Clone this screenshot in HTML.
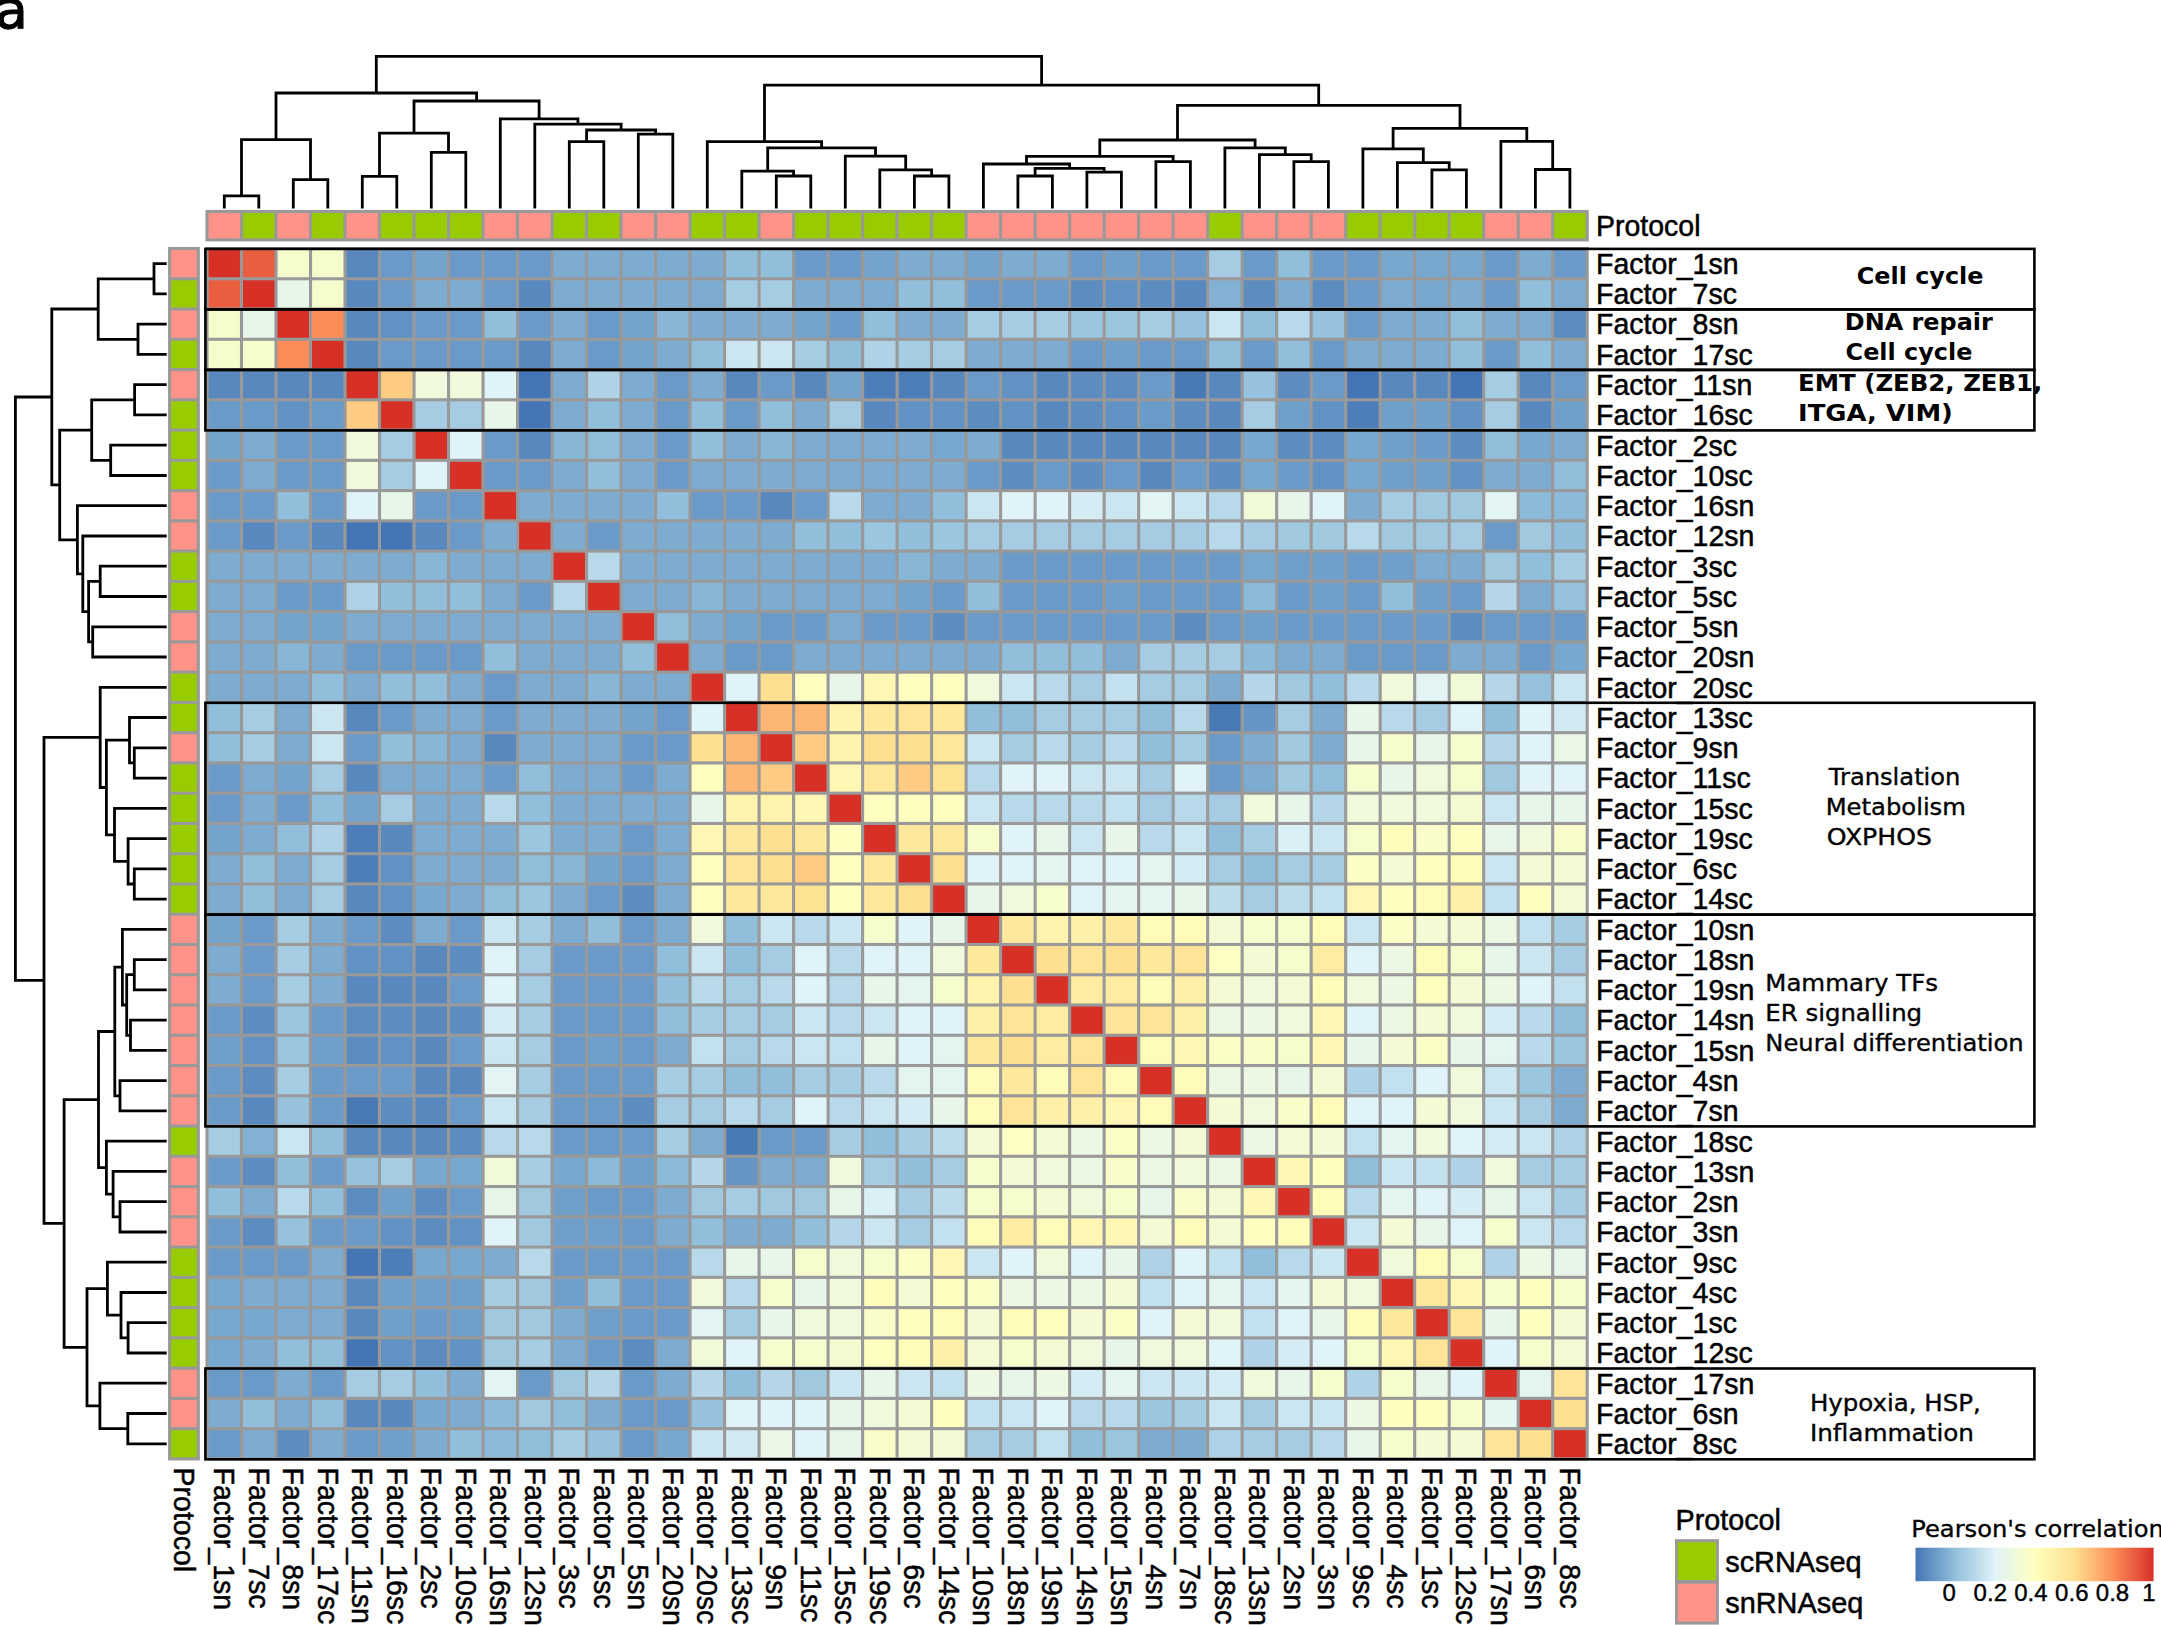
<!DOCTYPE html>
<html><head><meta charset="utf-8"><title>Heatmap</title><style>html,body{margin:0;padding:0;background:#fff}svg{display:block}</style></head><body>
<svg width="2161" height="1625" viewBox="0 0 2161 1625">
<rect width="2161" height="1625" fill="#fff"/>
<text x="-4.8" y="28" font-family="'DejaVu Sans',Verdana,sans-serif" font-size="53" stroke="#000" stroke-width="1.2">a</text>
<rect x="205.45" y="246.95" width="1383.30" height="1213.50" fill="#999999"/>
<g>
<rect x="208.55" y="250.05" width="31.41" height="27.16" fill="#D73027"/>
<rect x="243.06" y="250.05" width="31.41" height="27.16" fill="#EA5E40"/>
<rect x="277.56" y="250.05" width="31.41" height="27.16" fill="#F7FCCD"/>
<rect x="312.06" y="250.05" width="31.41" height="27.16" fill="#F7FCCD"/>
<rect x="346.57" y="250.05" width="31.41" height="27.16" fill="#5888BE"/>
<rect x="381.07" y="250.05" width="31.41" height="27.16" fill="#6B9AC8"/>
<rect x="415.58" y="250.05" width="31.41" height="27.16" fill="#74A3CC"/>
<rect x="450.09" y="250.05" width="31.41" height="27.16" fill="#6B9AC8"/>
<rect x="484.59" y="250.05" width="31.41" height="27.16" fill="#6B9AC8"/>
<rect x="519.10" y="250.05" width="31.41" height="27.16" fill="#6B9AC8"/>
<rect x="553.60" y="250.05" width="31.41" height="27.16" fill="#7EACD1"/>
<rect x="588.11" y="250.05" width="31.41" height="27.16" fill="#7EACD1"/>
<rect x="622.61" y="250.05" width="31.41" height="27.16" fill="#7EACD1"/>
<rect x="657.12" y="250.05" width="31.41" height="27.16" fill="#7EACD1"/>
<rect x="691.62" y="250.05" width="31.41" height="27.16" fill="#7EACD1"/>
<rect x="726.12" y="250.05" width="31.41" height="27.16" fill="#91BFDB"/>
<rect x="760.63" y="250.05" width="31.41" height="27.16" fill="#91BFDB"/>
<rect x="795.13" y="250.05" width="31.41" height="27.16" fill="#6B9AC8"/>
<rect x="829.64" y="250.05" width="31.41" height="27.16" fill="#6B9AC8"/>
<rect x="864.14" y="250.05" width="31.41" height="27.16" fill="#74A3CC"/>
<rect x="898.65" y="250.05" width="31.41" height="27.16" fill="#7EACD1"/>
<rect x="933.15" y="250.05" width="31.41" height="27.16" fill="#7EACD1"/>
<rect x="967.66" y="250.05" width="31.41" height="27.16" fill="#74A3CC"/>
<rect x="1002.16" y="250.05" width="31.41" height="27.16" fill="#7EACD1"/>
<rect x="1036.67" y="250.05" width="31.41" height="27.16" fill="#7EACD1"/>
<rect x="1071.17" y="250.05" width="31.41" height="27.16" fill="#6B9AC8"/>
<rect x="1105.68" y="250.05" width="31.41" height="27.16" fill="#709FCA"/>
<rect x="1140.19" y="250.05" width="31.41" height="27.16" fill="#6B9AC8"/>
<rect x="1174.69" y="250.05" width="31.41" height="27.16" fill="#6B9AC8"/>
<rect x="1209.19" y="250.05" width="31.41" height="27.16" fill="#A5CCE2"/>
<rect x="1243.70" y="250.05" width="31.41" height="27.16" fill="#6B9AC8"/>
<rect x="1278.20" y="250.05" width="31.41" height="27.16" fill="#91BFDB"/>
<rect x="1312.71" y="250.05" width="31.41" height="27.16" fill="#6B9AC8"/>
<rect x="1347.22" y="250.05" width="31.41" height="27.16" fill="#6B9AC8"/>
<rect x="1381.72" y="250.05" width="31.41" height="27.16" fill="#79A8CF"/>
<rect x="1416.23" y="250.05" width="31.41" height="27.16" fill="#79A8CF"/>
<rect x="1450.73" y="250.05" width="31.41" height="27.16" fill="#79A8CF"/>
<rect x="1485.24" y="250.05" width="31.41" height="27.16" fill="#6B9AC8"/>
<rect x="1519.74" y="250.05" width="31.41" height="27.16" fill="#7EACD1"/>
<rect x="1554.25" y="250.05" width="31.41" height="27.16" fill="#6B9AC8"/>
<rect x="208.55" y="280.31" width="31.41" height="27.16" fill="#EA5E40"/>
<rect x="243.06" y="280.31" width="31.41" height="27.16" fill="#D73027"/>
<rect x="277.56" y="280.31" width="31.41" height="27.16" fill="#E8F6EA"/>
<rect x="312.06" y="280.31" width="31.41" height="27.16" fill="#F7FCCD"/>
<rect x="346.57" y="280.31" width="31.41" height="27.16" fill="#5888BE"/>
<rect x="381.07" y="280.31" width="31.41" height="27.16" fill="#6B9AC8"/>
<rect x="415.58" y="280.31" width="31.41" height="27.16" fill="#7EACD1"/>
<rect x="450.09" y="280.31" width="31.41" height="27.16" fill="#7EACD1"/>
<rect x="484.59" y="280.31" width="31.41" height="27.16" fill="#6B9AC8"/>
<rect x="519.10" y="280.31" width="31.41" height="27.16" fill="#5888BE"/>
<rect x="553.60" y="280.31" width="31.41" height="27.16" fill="#7EACD1"/>
<rect x="588.11" y="280.31" width="31.41" height="27.16" fill="#7EACD1"/>
<rect x="622.61" y="280.31" width="31.41" height="27.16" fill="#7EACD1"/>
<rect x="657.12" y="280.31" width="31.41" height="27.16" fill="#7EACD1"/>
<rect x="691.62" y="280.31" width="31.41" height="27.16" fill="#7EACD1"/>
<rect x="726.12" y="280.31" width="31.41" height="27.16" fill="#A5CCE2"/>
<rect x="760.63" y="280.31" width="31.41" height="27.16" fill="#A5CCE2"/>
<rect x="795.13" y="280.31" width="31.41" height="27.16" fill="#7EACD1"/>
<rect x="829.64" y="280.31" width="31.41" height="27.16" fill="#7EACD1"/>
<rect x="864.14" y="280.31" width="31.41" height="27.16" fill="#7EACD1"/>
<rect x="898.65" y="280.31" width="31.41" height="27.16" fill="#91BFDB"/>
<rect x="933.15" y="280.31" width="31.41" height="27.16" fill="#91BFDB"/>
<rect x="967.66" y="280.31" width="31.41" height="27.16" fill="#6B9AC8"/>
<rect x="1002.16" y="280.31" width="31.41" height="27.16" fill="#6B9AC8"/>
<rect x="1036.67" y="280.31" width="31.41" height="27.16" fill="#6B9AC8"/>
<rect x="1071.17" y="280.31" width="31.41" height="27.16" fill="#5D8CC0"/>
<rect x="1105.68" y="280.31" width="31.41" height="27.16" fill="#6291C3"/>
<rect x="1140.19" y="280.31" width="31.41" height="27.16" fill="#5D8CC0"/>
<rect x="1174.69" y="280.31" width="31.41" height="27.16" fill="#5888BE"/>
<rect x="1209.19" y="280.31" width="31.41" height="27.16" fill="#83B1D4"/>
<rect x="1243.70" y="280.31" width="31.41" height="27.16" fill="#5D8CC0"/>
<rect x="1278.20" y="280.31" width="31.41" height="27.16" fill="#7EACD1"/>
<rect x="1312.71" y="280.31" width="31.41" height="27.16" fill="#5D8CC0"/>
<rect x="1347.22" y="280.31" width="31.41" height="27.16" fill="#6B9AC8"/>
<rect x="1381.72" y="280.31" width="31.41" height="27.16" fill="#7EACD1"/>
<rect x="1416.23" y="280.31" width="31.41" height="27.16" fill="#79A8CF"/>
<rect x="1450.73" y="280.31" width="31.41" height="27.16" fill="#7EACD1"/>
<rect x="1485.24" y="280.31" width="31.41" height="27.16" fill="#6B9AC8"/>
<rect x="1519.74" y="280.31" width="31.41" height="27.16" fill="#91BFDB"/>
<rect x="1554.25" y="280.31" width="31.41" height="27.16" fill="#7EACD1"/>
<rect x="208.55" y="310.57" width="31.41" height="27.16" fill="#F7FCCD"/>
<rect x="243.06" y="310.57" width="31.41" height="27.16" fill="#E8F6EA"/>
<rect x="277.56" y="310.57" width="31.41" height="27.16" fill="#D73027"/>
<rect x="312.06" y="310.57" width="31.41" height="27.16" fill="#FC8D59"/>
<rect x="346.57" y="310.57" width="31.41" height="27.16" fill="#5888BE"/>
<rect x="381.07" y="310.57" width="31.41" height="27.16" fill="#6291C3"/>
<rect x="415.58" y="310.57" width="31.41" height="27.16" fill="#6B9AC8"/>
<rect x="450.09" y="310.57" width="31.41" height="27.16" fill="#6B9AC8"/>
<rect x="484.59" y="310.57" width="31.41" height="27.16" fill="#91BFDB"/>
<rect x="519.10" y="310.57" width="31.41" height="27.16" fill="#6B9AC8"/>
<rect x="553.60" y="310.57" width="31.41" height="27.16" fill="#7EACD1"/>
<rect x="588.11" y="310.57" width="31.41" height="27.16" fill="#6B9AC8"/>
<rect x="622.61" y="310.57" width="31.41" height="27.16" fill="#74A3CC"/>
<rect x="657.12" y="310.57" width="31.41" height="27.16" fill="#88B6D6"/>
<rect x="691.62" y="310.57" width="31.41" height="27.16" fill="#7EACD1"/>
<rect x="726.12" y="310.57" width="31.41" height="27.16" fill="#7EACD1"/>
<rect x="760.63" y="310.57" width="31.41" height="27.16" fill="#7EACD1"/>
<rect x="795.13" y="310.57" width="31.41" height="27.16" fill="#74A3CC"/>
<rect x="829.64" y="310.57" width="31.41" height="27.16" fill="#6B9AC8"/>
<rect x="864.14" y="310.57" width="31.41" height="27.16" fill="#91BFDB"/>
<rect x="898.65" y="310.57" width="31.41" height="27.16" fill="#7EACD1"/>
<rect x="933.15" y="310.57" width="31.41" height="27.16" fill="#7EACD1"/>
<rect x="967.66" y="310.57" width="31.41" height="27.16" fill="#A5CCE2"/>
<rect x="1002.16" y="310.57" width="31.41" height="27.16" fill="#A5CCE2"/>
<rect x="1036.67" y="310.57" width="31.41" height="27.16" fill="#A5CCE2"/>
<rect x="1071.17" y="310.57" width="31.41" height="27.16" fill="#9BC6DF"/>
<rect x="1105.68" y="310.57" width="31.41" height="27.16" fill="#9BC6DF"/>
<rect x="1140.19" y="310.57" width="31.41" height="27.16" fill="#A5CCE2"/>
<rect x="1174.69" y="310.57" width="31.41" height="27.16" fill="#96C2DD"/>
<rect x="1209.19" y="310.57" width="31.41" height="27.16" fill="#CCE6F1"/>
<rect x="1243.70" y="310.57" width="31.41" height="27.16" fill="#91BFDB"/>
<rect x="1278.20" y="310.57" width="31.41" height="27.16" fill="#B8D9EA"/>
<rect x="1312.71" y="310.57" width="31.41" height="27.16" fill="#96C2DD"/>
<rect x="1347.22" y="310.57" width="31.41" height="27.16" fill="#6B9AC8"/>
<rect x="1381.72" y="310.57" width="31.41" height="27.16" fill="#7EACD1"/>
<rect x="1416.23" y="310.57" width="31.41" height="27.16" fill="#7EACD1"/>
<rect x="1450.73" y="310.57" width="31.41" height="27.16" fill="#91BFDB"/>
<rect x="1485.24" y="310.57" width="31.41" height="27.16" fill="#7EACD1"/>
<rect x="1519.74" y="310.57" width="31.41" height="27.16" fill="#7EACD1"/>
<rect x="1554.25" y="310.57" width="31.41" height="27.16" fill="#5D8CC0"/>
<rect x="208.55" y="340.83" width="31.41" height="27.16" fill="#F7FCCD"/>
<rect x="243.06" y="340.83" width="31.41" height="27.16" fill="#F7FCCD"/>
<rect x="277.56" y="340.83" width="31.41" height="27.16" fill="#FC8D59"/>
<rect x="312.06" y="340.83" width="31.41" height="27.16" fill="#D73027"/>
<rect x="346.57" y="340.83" width="31.41" height="27.16" fill="#5888BE"/>
<rect x="381.07" y="340.83" width="31.41" height="27.16" fill="#6B9AC8"/>
<rect x="415.58" y="340.83" width="31.41" height="27.16" fill="#6B9AC8"/>
<rect x="450.09" y="340.83" width="31.41" height="27.16" fill="#6B9AC8"/>
<rect x="484.59" y="340.83" width="31.41" height="27.16" fill="#6B9AC8"/>
<rect x="519.10" y="340.83" width="31.41" height="27.16" fill="#5888BE"/>
<rect x="553.60" y="340.83" width="31.41" height="27.16" fill="#7EACD1"/>
<rect x="588.11" y="340.83" width="31.41" height="27.16" fill="#6B9AC8"/>
<rect x="622.61" y="340.83" width="31.41" height="27.16" fill="#74A3CC"/>
<rect x="657.12" y="340.83" width="31.41" height="27.16" fill="#7EACD1"/>
<rect x="691.62" y="340.83" width="31.41" height="27.16" fill="#91BFDB"/>
<rect x="726.12" y="340.83" width="31.41" height="27.16" fill="#CCE6F1"/>
<rect x="760.63" y="340.83" width="31.41" height="27.16" fill="#CCE6F1"/>
<rect x="795.13" y="340.83" width="31.41" height="27.16" fill="#A5CCE2"/>
<rect x="829.64" y="340.83" width="31.41" height="27.16" fill="#91BFDB"/>
<rect x="864.14" y="340.83" width="31.41" height="27.16" fill="#AFD2E6"/>
<rect x="898.65" y="340.83" width="31.41" height="27.16" fill="#A5CCE2"/>
<rect x="933.15" y="340.83" width="31.41" height="27.16" fill="#A5CCE2"/>
<rect x="967.66" y="340.83" width="31.41" height="27.16" fill="#7EACD1"/>
<rect x="1002.16" y="340.83" width="31.41" height="27.16" fill="#7EACD1"/>
<rect x="1036.67" y="340.83" width="31.41" height="27.16" fill="#7EACD1"/>
<rect x="1071.17" y="340.83" width="31.41" height="27.16" fill="#6B9AC8"/>
<rect x="1105.68" y="340.83" width="31.41" height="27.16" fill="#709FCA"/>
<rect x="1140.19" y="340.83" width="31.41" height="27.16" fill="#6B9AC8"/>
<rect x="1174.69" y="340.83" width="31.41" height="27.16" fill="#6B9AC8"/>
<rect x="1209.19" y="340.83" width="31.41" height="27.16" fill="#91BFDB"/>
<rect x="1243.70" y="340.83" width="31.41" height="27.16" fill="#6B9AC8"/>
<rect x="1278.20" y="340.83" width="31.41" height="27.16" fill="#91BFDB"/>
<rect x="1312.71" y="340.83" width="31.41" height="27.16" fill="#6B9AC8"/>
<rect x="1347.22" y="340.83" width="31.41" height="27.16" fill="#7EACD1"/>
<rect x="1381.72" y="340.83" width="31.41" height="27.16" fill="#7EACD1"/>
<rect x="1416.23" y="340.83" width="31.41" height="27.16" fill="#7EACD1"/>
<rect x="1450.73" y="340.83" width="31.41" height="27.16" fill="#91BFDB"/>
<rect x="1485.24" y="340.83" width="31.41" height="27.16" fill="#6B9AC8"/>
<rect x="1519.74" y="340.83" width="31.41" height="27.16" fill="#91BFDB"/>
<rect x="1554.25" y="340.83" width="31.41" height="27.16" fill="#7EACD1"/>
<rect x="208.55" y="371.09" width="31.41" height="27.16" fill="#5888BE"/>
<rect x="243.06" y="371.09" width="31.41" height="27.16" fill="#5888BE"/>
<rect x="277.56" y="371.09" width="31.41" height="27.16" fill="#5888BE"/>
<rect x="312.06" y="371.09" width="31.41" height="27.16" fill="#5888BE"/>
<rect x="346.57" y="371.09" width="31.41" height="27.16" fill="#D73027"/>
<rect x="381.07" y="371.09" width="31.41" height="27.16" fill="#FECB82"/>
<rect x="415.58" y="371.09" width="31.41" height="27.16" fill="#F0F9DC"/>
<rect x="450.09" y="371.09" width="31.41" height="27.16" fill="#F0F9DC"/>
<rect x="484.59" y="371.09" width="31.41" height="27.16" fill="#E0F3F8"/>
<rect x="519.10" y="371.09" width="31.41" height="27.16" fill="#4575B4"/>
<rect x="553.60" y="371.09" width="31.41" height="27.16" fill="#7EACD1"/>
<rect x="588.11" y="371.09" width="31.41" height="27.16" fill="#AFD2E6"/>
<rect x="622.61" y="371.09" width="31.41" height="27.16" fill="#7EACD1"/>
<rect x="657.12" y="371.09" width="31.41" height="27.16" fill="#6B9AC8"/>
<rect x="691.62" y="371.09" width="31.41" height="27.16" fill="#7EACD1"/>
<rect x="726.12" y="371.09" width="31.41" height="27.16" fill="#5888BE"/>
<rect x="760.63" y="371.09" width="31.41" height="27.16" fill="#6B9AC8"/>
<rect x="795.13" y="371.09" width="31.41" height="27.16" fill="#5888BE"/>
<rect x="829.64" y="371.09" width="31.41" height="27.16" fill="#74A3CC"/>
<rect x="864.14" y="371.09" width="31.41" height="27.16" fill="#4E7EB9"/>
<rect x="898.65" y="371.09" width="31.41" height="27.16" fill="#4E7EB9"/>
<rect x="933.15" y="371.09" width="31.41" height="27.16" fill="#5888BE"/>
<rect x="967.66" y="371.09" width="31.41" height="27.16" fill="#6B9AC8"/>
<rect x="1002.16" y="371.09" width="31.41" height="27.16" fill="#6291C3"/>
<rect x="1036.67" y="371.09" width="31.41" height="27.16" fill="#5888BE"/>
<rect x="1071.17" y="371.09" width="31.41" height="27.16" fill="#5D8CC0"/>
<rect x="1105.68" y="371.09" width="31.41" height="27.16" fill="#5D8CC0"/>
<rect x="1140.19" y="371.09" width="31.41" height="27.16" fill="#6B9AC8"/>
<rect x="1174.69" y="371.09" width="31.41" height="27.16" fill="#4A7AB6"/>
<rect x="1209.19" y="371.09" width="31.41" height="27.16" fill="#5888BE"/>
<rect x="1243.70" y="371.09" width="31.41" height="27.16" fill="#96C2DD"/>
<rect x="1278.20" y="371.09" width="31.41" height="27.16" fill="#5D8CC0"/>
<rect x="1312.71" y="371.09" width="31.41" height="27.16" fill="#6B9AC8"/>
<rect x="1347.22" y="371.09" width="31.41" height="27.16" fill="#4575B4"/>
<rect x="1381.72" y="371.09" width="31.41" height="27.16" fill="#5888BE"/>
<rect x="1416.23" y="371.09" width="31.41" height="27.16" fill="#5888BE"/>
<rect x="1450.73" y="371.09" width="31.41" height="27.16" fill="#4575B4"/>
<rect x="1485.24" y="371.09" width="31.41" height="27.16" fill="#A5CCE2"/>
<rect x="1519.74" y="371.09" width="31.41" height="27.16" fill="#5888BE"/>
<rect x="1554.25" y="371.09" width="31.41" height="27.16" fill="#6B9AC8"/>
<rect x="208.55" y="401.35" width="31.41" height="27.16" fill="#6B9AC8"/>
<rect x="243.06" y="401.35" width="31.41" height="27.16" fill="#6B9AC8"/>
<rect x="277.56" y="401.35" width="31.41" height="27.16" fill="#6291C3"/>
<rect x="312.06" y="401.35" width="31.41" height="27.16" fill="#6B9AC8"/>
<rect x="346.57" y="401.35" width="31.41" height="27.16" fill="#FECB82"/>
<rect x="381.07" y="401.35" width="31.41" height="27.16" fill="#D73027"/>
<rect x="415.58" y="401.35" width="31.41" height="27.16" fill="#A5CCE2"/>
<rect x="450.09" y="401.35" width="31.41" height="27.16" fill="#A5CCE2"/>
<rect x="484.59" y="401.35" width="31.41" height="27.16" fill="#E8F6EA"/>
<rect x="519.10" y="401.35" width="31.41" height="27.16" fill="#4575B4"/>
<rect x="553.60" y="401.35" width="31.41" height="27.16" fill="#7EACD1"/>
<rect x="588.11" y="401.35" width="31.41" height="27.16" fill="#91BFDB"/>
<rect x="622.61" y="401.35" width="31.41" height="27.16" fill="#7EACD1"/>
<rect x="657.12" y="401.35" width="31.41" height="27.16" fill="#6B9AC8"/>
<rect x="691.62" y="401.35" width="31.41" height="27.16" fill="#91BFDB"/>
<rect x="726.12" y="401.35" width="31.41" height="27.16" fill="#6B9AC8"/>
<rect x="760.63" y="401.35" width="31.41" height="27.16" fill="#91BFDB"/>
<rect x="795.13" y="401.35" width="31.41" height="27.16" fill="#7EACD1"/>
<rect x="829.64" y="401.35" width="31.41" height="27.16" fill="#A5CCE2"/>
<rect x="864.14" y="401.35" width="31.41" height="27.16" fill="#5888BE"/>
<rect x="898.65" y="401.35" width="31.41" height="27.16" fill="#6291C3"/>
<rect x="933.15" y="401.35" width="31.41" height="27.16" fill="#6291C3"/>
<rect x="967.66" y="401.35" width="31.41" height="27.16" fill="#5D8CC0"/>
<rect x="1002.16" y="401.35" width="31.41" height="27.16" fill="#6291C3"/>
<rect x="1036.67" y="401.35" width="31.41" height="27.16" fill="#5888BE"/>
<rect x="1071.17" y="401.35" width="31.41" height="27.16" fill="#5D8CC0"/>
<rect x="1105.68" y="401.35" width="31.41" height="27.16" fill="#6291C3"/>
<rect x="1140.19" y="401.35" width="31.41" height="27.16" fill="#6B9AC8"/>
<rect x="1174.69" y="401.35" width="31.41" height="27.16" fill="#5D8CC0"/>
<rect x="1209.19" y="401.35" width="31.41" height="27.16" fill="#5888BE"/>
<rect x="1243.70" y="401.35" width="31.41" height="27.16" fill="#A5CCE2"/>
<rect x="1278.20" y="401.35" width="31.41" height="27.16" fill="#709FCA"/>
<rect x="1312.71" y="401.35" width="31.41" height="27.16" fill="#6291C3"/>
<rect x="1347.22" y="401.35" width="31.41" height="27.16" fill="#4E7EB9"/>
<rect x="1381.72" y="401.35" width="31.41" height="27.16" fill="#709FCA"/>
<rect x="1416.23" y="401.35" width="31.41" height="27.16" fill="#709FCA"/>
<rect x="1450.73" y="401.35" width="31.41" height="27.16" fill="#6291C3"/>
<rect x="1485.24" y="401.35" width="31.41" height="27.16" fill="#A5CCE2"/>
<rect x="1519.74" y="401.35" width="31.41" height="27.16" fill="#5888BE"/>
<rect x="1554.25" y="401.35" width="31.41" height="27.16" fill="#709FCA"/>
<rect x="208.55" y="431.61" width="31.41" height="27.16" fill="#74A3CC"/>
<rect x="243.06" y="431.61" width="31.41" height="27.16" fill="#7EACD1"/>
<rect x="277.56" y="431.61" width="31.41" height="27.16" fill="#6B9AC8"/>
<rect x="312.06" y="431.61" width="31.41" height="27.16" fill="#6B9AC8"/>
<rect x="346.57" y="431.61" width="31.41" height="27.16" fill="#F0F9DC"/>
<rect x="381.07" y="431.61" width="31.41" height="27.16" fill="#A5CCE2"/>
<rect x="415.58" y="431.61" width="31.41" height="27.16" fill="#D73027"/>
<rect x="450.09" y="431.61" width="31.41" height="27.16" fill="#E0F3F8"/>
<rect x="484.59" y="431.61" width="31.41" height="27.16" fill="#6B9AC8"/>
<rect x="519.10" y="431.61" width="31.41" height="27.16" fill="#5888BE"/>
<rect x="553.60" y="431.61" width="31.41" height="27.16" fill="#88B6D6"/>
<rect x="588.11" y="431.61" width="31.41" height="27.16" fill="#91BFDB"/>
<rect x="622.61" y="431.61" width="31.41" height="27.16" fill="#7EACD1"/>
<rect x="657.12" y="431.61" width="31.41" height="27.16" fill="#6B9AC8"/>
<rect x="691.62" y="431.61" width="31.41" height="27.16" fill="#91BFDB"/>
<rect x="726.12" y="431.61" width="31.41" height="27.16" fill="#7EACD1"/>
<rect x="760.63" y="431.61" width="31.41" height="27.16" fill="#88B6D6"/>
<rect x="795.13" y="431.61" width="31.41" height="27.16" fill="#7EACD1"/>
<rect x="829.64" y="431.61" width="31.41" height="27.16" fill="#7EACD1"/>
<rect x="864.14" y="431.61" width="31.41" height="27.16" fill="#7EACD1"/>
<rect x="898.65" y="431.61" width="31.41" height="27.16" fill="#7EACD1"/>
<rect x="933.15" y="431.61" width="31.41" height="27.16" fill="#79A8CF"/>
<rect x="967.66" y="431.61" width="31.41" height="27.16" fill="#7EACD1"/>
<rect x="1002.16" y="431.61" width="31.41" height="27.16" fill="#5888BE"/>
<rect x="1036.67" y="431.61" width="31.41" height="27.16" fill="#5888BE"/>
<rect x="1071.17" y="431.61" width="31.41" height="27.16" fill="#5888BE"/>
<rect x="1105.68" y="431.61" width="31.41" height="27.16" fill="#5888BE"/>
<rect x="1140.19" y="431.61" width="31.41" height="27.16" fill="#5888BE"/>
<rect x="1174.69" y="431.61" width="31.41" height="27.16" fill="#5888BE"/>
<rect x="1209.19" y="431.61" width="31.41" height="27.16" fill="#5888BE"/>
<rect x="1243.70" y="431.61" width="31.41" height="27.16" fill="#79A8CF"/>
<rect x="1278.20" y="431.61" width="31.41" height="27.16" fill="#5D8CC0"/>
<rect x="1312.71" y="431.61" width="31.41" height="27.16" fill="#5D8CC0"/>
<rect x="1347.22" y="431.61" width="31.41" height="27.16" fill="#79A8CF"/>
<rect x="1381.72" y="431.61" width="31.41" height="27.16" fill="#709FCA"/>
<rect x="1416.23" y="431.61" width="31.41" height="27.16" fill="#6B9AC8"/>
<rect x="1450.73" y="431.61" width="31.41" height="27.16" fill="#5D8CC0"/>
<rect x="1485.24" y="431.61" width="31.41" height="27.16" fill="#91BFDB"/>
<rect x="1519.74" y="431.61" width="31.41" height="27.16" fill="#79A8CF"/>
<rect x="1554.25" y="431.61" width="31.41" height="27.16" fill="#7EACD1"/>
<rect x="208.55" y="461.87" width="31.41" height="27.16" fill="#6B9AC8"/>
<rect x="243.06" y="461.87" width="31.41" height="27.16" fill="#7EACD1"/>
<rect x="277.56" y="461.87" width="31.41" height="27.16" fill="#6B9AC8"/>
<rect x="312.06" y="461.87" width="31.41" height="27.16" fill="#6B9AC8"/>
<rect x="346.57" y="461.87" width="31.41" height="27.16" fill="#F0F9DC"/>
<rect x="381.07" y="461.87" width="31.41" height="27.16" fill="#A5CCE2"/>
<rect x="415.58" y="461.87" width="31.41" height="27.16" fill="#E0F3F8"/>
<rect x="450.09" y="461.87" width="31.41" height="27.16" fill="#D73027"/>
<rect x="484.59" y="461.87" width="31.41" height="27.16" fill="#6B9AC8"/>
<rect x="519.10" y="461.87" width="31.41" height="27.16" fill="#6B9AC8"/>
<rect x="553.60" y="461.87" width="31.41" height="27.16" fill="#7EACD1"/>
<rect x="588.11" y="461.87" width="31.41" height="27.16" fill="#91BFDB"/>
<rect x="622.61" y="461.87" width="31.41" height="27.16" fill="#7EACD1"/>
<rect x="657.12" y="461.87" width="31.41" height="27.16" fill="#6B9AC8"/>
<rect x="691.62" y="461.87" width="31.41" height="27.16" fill="#7EACD1"/>
<rect x="726.12" y="461.87" width="31.41" height="27.16" fill="#7EACD1"/>
<rect x="760.63" y="461.87" width="31.41" height="27.16" fill="#7EACD1"/>
<rect x="795.13" y="461.87" width="31.41" height="27.16" fill="#7EACD1"/>
<rect x="829.64" y="461.87" width="31.41" height="27.16" fill="#7EACD1"/>
<rect x="864.14" y="461.87" width="31.41" height="27.16" fill="#7EACD1"/>
<rect x="898.65" y="461.87" width="31.41" height="27.16" fill="#7EACD1"/>
<rect x="933.15" y="461.87" width="31.41" height="27.16" fill="#7EACD1"/>
<rect x="967.66" y="461.87" width="31.41" height="27.16" fill="#6B9AC8"/>
<rect x="1002.16" y="461.87" width="31.41" height="27.16" fill="#5D8CC0"/>
<rect x="1036.67" y="461.87" width="31.41" height="27.16" fill="#6B9AC8"/>
<rect x="1071.17" y="461.87" width="31.41" height="27.16" fill="#5D8CC0"/>
<rect x="1105.68" y="461.87" width="31.41" height="27.16" fill="#6B9AC8"/>
<rect x="1140.19" y="461.87" width="31.41" height="27.16" fill="#5888BE"/>
<rect x="1174.69" y="461.87" width="31.41" height="27.16" fill="#6B9AC8"/>
<rect x="1209.19" y="461.87" width="31.41" height="27.16" fill="#5D8CC0"/>
<rect x="1243.70" y="461.87" width="31.41" height="27.16" fill="#79A8CF"/>
<rect x="1278.20" y="461.87" width="31.41" height="27.16" fill="#6B9AC8"/>
<rect x="1312.71" y="461.87" width="31.41" height="27.16" fill="#6291C3"/>
<rect x="1347.22" y="461.87" width="31.41" height="27.16" fill="#79A8CF"/>
<rect x="1381.72" y="461.87" width="31.41" height="27.16" fill="#709FCA"/>
<rect x="1416.23" y="461.87" width="31.41" height="27.16" fill="#709FCA"/>
<rect x="1450.73" y="461.87" width="31.41" height="27.16" fill="#6291C3"/>
<rect x="1485.24" y="461.87" width="31.41" height="27.16" fill="#7EACD1"/>
<rect x="1519.74" y="461.87" width="31.41" height="27.16" fill="#7EACD1"/>
<rect x="1554.25" y="461.87" width="31.41" height="27.16" fill="#91BFDB"/>
<rect x="208.55" y="492.13" width="31.41" height="27.16" fill="#6B9AC8"/>
<rect x="243.06" y="492.13" width="31.41" height="27.16" fill="#6B9AC8"/>
<rect x="277.56" y="492.13" width="31.41" height="27.16" fill="#91BFDB"/>
<rect x="312.06" y="492.13" width="31.41" height="27.16" fill="#6B9AC8"/>
<rect x="346.57" y="492.13" width="31.41" height="27.16" fill="#E0F3F8"/>
<rect x="381.07" y="492.13" width="31.41" height="27.16" fill="#E8F6EA"/>
<rect x="415.58" y="492.13" width="31.41" height="27.16" fill="#6B9AC8"/>
<rect x="450.09" y="492.13" width="31.41" height="27.16" fill="#6B9AC8"/>
<rect x="484.59" y="492.13" width="31.41" height="27.16" fill="#D73027"/>
<rect x="519.10" y="492.13" width="31.41" height="27.16" fill="#7EACD1"/>
<rect x="553.60" y="492.13" width="31.41" height="27.16" fill="#7EACD1"/>
<rect x="588.11" y="492.13" width="31.41" height="27.16" fill="#7EACD1"/>
<rect x="622.61" y="492.13" width="31.41" height="27.16" fill="#7EACD1"/>
<rect x="657.12" y="492.13" width="31.41" height="27.16" fill="#91BFDB"/>
<rect x="691.62" y="492.13" width="31.41" height="27.16" fill="#6B9AC8"/>
<rect x="726.12" y="492.13" width="31.41" height="27.16" fill="#6B9AC8"/>
<rect x="760.63" y="492.13" width="31.41" height="27.16" fill="#5888BE"/>
<rect x="795.13" y="492.13" width="31.41" height="27.16" fill="#6B9AC8"/>
<rect x="829.64" y="492.13" width="31.41" height="27.16" fill="#B8D9EA"/>
<rect x="864.14" y="492.13" width="31.41" height="27.16" fill="#7EACD1"/>
<rect x="898.65" y="492.13" width="31.41" height="27.16" fill="#7EACD1"/>
<rect x="933.15" y="492.13" width="31.41" height="27.16" fill="#91BFDB"/>
<rect x="967.66" y="492.13" width="31.41" height="27.16" fill="#CCE6F1"/>
<rect x="1002.16" y="492.13" width="31.41" height="27.16" fill="#E0F3F8"/>
<rect x="1036.67" y="492.13" width="31.41" height="27.16" fill="#E0F3F8"/>
<rect x="1071.17" y="492.13" width="31.41" height="27.16" fill="#D6ECF4"/>
<rect x="1105.68" y="492.13" width="31.41" height="27.16" fill="#CCE6F1"/>
<rect x="1140.19" y="492.13" width="31.41" height="27.16" fill="#E2F4F4"/>
<rect x="1174.69" y="492.13" width="31.41" height="27.16" fill="#CCE6F1"/>
<rect x="1209.19" y="492.13" width="31.41" height="27.16" fill="#B8D9EA"/>
<rect x="1243.70" y="492.13" width="31.41" height="27.16" fill="#F1FAD8"/>
<rect x="1278.20" y="492.13" width="31.41" height="27.16" fill="#E8F6EA"/>
<rect x="1312.71" y="492.13" width="31.41" height="27.16" fill="#E0F3F8"/>
<rect x="1347.22" y="492.13" width="31.41" height="27.16" fill="#7EACD1"/>
<rect x="1381.72" y="492.13" width="31.41" height="27.16" fill="#A5CCE2"/>
<rect x="1416.23" y="492.13" width="31.41" height="27.16" fill="#A0C9E0"/>
<rect x="1450.73" y="492.13" width="31.41" height="27.16" fill="#A0C9E0"/>
<rect x="1485.24" y="492.13" width="31.41" height="27.16" fill="#E2F4F4"/>
<rect x="1519.74" y="492.13" width="31.41" height="27.16" fill="#8CBAD9"/>
<rect x="1554.25" y="492.13" width="31.41" height="27.16" fill="#8CBAD9"/>
<rect x="208.55" y="522.39" width="31.41" height="27.16" fill="#6B9AC8"/>
<rect x="243.06" y="522.39" width="31.41" height="27.16" fill="#5888BE"/>
<rect x="277.56" y="522.39" width="31.41" height="27.16" fill="#6B9AC8"/>
<rect x="312.06" y="522.39" width="31.41" height="27.16" fill="#5888BE"/>
<rect x="346.57" y="522.39" width="31.41" height="27.16" fill="#4575B4"/>
<rect x="381.07" y="522.39" width="31.41" height="27.16" fill="#4575B4"/>
<rect x="415.58" y="522.39" width="31.41" height="27.16" fill="#5888BE"/>
<rect x="450.09" y="522.39" width="31.41" height="27.16" fill="#6B9AC8"/>
<rect x="484.59" y="522.39" width="31.41" height="27.16" fill="#7EACD1"/>
<rect x="519.10" y="522.39" width="31.41" height="27.16" fill="#D73027"/>
<rect x="553.60" y="522.39" width="31.41" height="27.16" fill="#7EACD1"/>
<rect x="588.11" y="522.39" width="31.41" height="27.16" fill="#6B9AC8"/>
<rect x="622.61" y="522.39" width="31.41" height="27.16" fill="#7EACD1"/>
<rect x="657.12" y="522.39" width="31.41" height="27.16" fill="#7EACD1"/>
<rect x="691.62" y="522.39" width="31.41" height="27.16" fill="#7EACD1"/>
<rect x="726.12" y="522.39" width="31.41" height="27.16" fill="#7EACD1"/>
<rect x="760.63" y="522.39" width="31.41" height="27.16" fill="#7EACD1"/>
<rect x="795.13" y="522.39" width="31.41" height="27.16" fill="#91BFDB"/>
<rect x="829.64" y="522.39" width="31.41" height="27.16" fill="#91BFDB"/>
<rect x="864.14" y="522.39" width="31.41" height="27.16" fill="#9BC6DF"/>
<rect x="898.65" y="522.39" width="31.41" height="27.16" fill="#91BFDB"/>
<rect x="933.15" y="522.39" width="31.41" height="27.16" fill="#9BC6DF"/>
<rect x="967.66" y="522.39" width="31.41" height="27.16" fill="#A5CCE2"/>
<rect x="1002.16" y="522.39" width="31.41" height="27.16" fill="#A5CCE2"/>
<rect x="1036.67" y="522.39" width="31.41" height="27.16" fill="#A5CCE2"/>
<rect x="1071.17" y="522.39" width="31.41" height="27.16" fill="#A5CCE2"/>
<rect x="1105.68" y="522.39" width="31.41" height="27.16" fill="#A5CCE2"/>
<rect x="1140.19" y="522.39" width="31.41" height="27.16" fill="#A5CCE2"/>
<rect x="1174.69" y="522.39" width="31.41" height="27.16" fill="#A5CCE2"/>
<rect x="1209.19" y="522.39" width="31.41" height="27.16" fill="#B8D9EA"/>
<rect x="1243.70" y="522.39" width="31.41" height="27.16" fill="#A5CCE2"/>
<rect x="1278.20" y="522.39" width="31.41" height="27.16" fill="#A0C9E0"/>
<rect x="1312.71" y="522.39" width="31.41" height="27.16" fill="#A0C9E0"/>
<rect x="1347.22" y="522.39" width="31.41" height="27.16" fill="#B8D9EA"/>
<rect x="1381.72" y="522.39" width="31.41" height="27.16" fill="#A0C9E0"/>
<rect x="1416.23" y="522.39" width="31.41" height="27.16" fill="#A0C9E0"/>
<rect x="1450.73" y="522.39" width="31.41" height="27.16" fill="#A5CCE2"/>
<rect x="1485.24" y="522.39" width="31.41" height="27.16" fill="#6B9AC8"/>
<rect x="1519.74" y="522.39" width="31.41" height="27.16" fill="#A0C9E0"/>
<rect x="1554.25" y="522.39" width="31.41" height="27.16" fill="#91BFDB"/>
<rect x="208.55" y="552.65" width="31.41" height="27.16" fill="#7EACD1"/>
<rect x="243.06" y="552.65" width="31.41" height="27.16" fill="#7EACD1"/>
<rect x="277.56" y="552.65" width="31.41" height="27.16" fill="#7EACD1"/>
<rect x="312.06" y="552.65" width="31.41" height="27.16" fill="#7EACD1"/>
<rect x="346.57" y="552.65" width="31.41" height="27.16" fill="#7EACD1"/>
<rect x="381.07" y="552.65" width="31.41" height="27.16" fill="#7EACD1"/>
<rect x="415.58" y="552.65" width="31.41" height="27.16" fill="#88B6D6"/>
<rect x="450.09" y="552.65" width="31.41" height="27.16" fill="#7EACD1"/>
<rect x="484.59" y="552.65" width="31.41" height="27.16" fill="#7EACD1"/>
<rect x="519.10" y="552.65" width="31.41" height="27.16" fill="#7EACD1"/>
<rect x="553.60" y="552.65" width="31.41" height="27.16" fill="#D73027"/>
<rect x="588.11" y="552.65" width="31.41" height="27.16" fill="#B8D9EA"/>
<rect x="622.61" y="552.65" width="31.41" height="27.16" fill="#7EACD1"/>
<rect x="657.12" y="552.65" width="31.41" height="27.16" fill="#7EACD1"/>
<rect x="691.62" y="552.65" width="31.41" height="27.16" fill="#7EACD1"/>
<rect x="726.12" y="552.65" width="31.41" height="27.16" fill="#7EACD1"/>
<rect x="760.63" y="552.65" width="31.41" height="27.16" fill="#7EACD1"/>
<rect x="795.13" y="552.65" width="31.41" height="27.16" fill="#7EACD1"/>
<rect x="829.64" y="552.65" width="31.41" height="27.16" fill="#7EACD1"/>
<rect x="864.14" y="552.65" width="31.41" height="27.16" fill="#7EACD1"/>
<rect x="898.65" y="552.65" width="31.41" height="27.16" fill="#88B6D6"/>
<rect x="933.15" y="552.65" width="31.41" height="27.16" fill="#7EACD1"/>
<rect x="967.66" y="552.65" width="31.41" height="27.16" fill="#7EACD1"/>
<rect x="1002.16" y="552.65" width="31.41" height="27.16" fill="#6B9AC8"/>
<rect x="1036.67" y="552.65" width="31.41" height="27.16" fill="#6B9AC8"/>
<rect x="1071.17" y="552.65" width="31.41" height="27.16" fill="#6B9AC8"/>
<rect x="1105.68" y="552.65" width="31.41" height="27.16" fill="#6B9AC8"/>
<rect x="1140.19" y="552.65" width="31.41" height="27.16" fill="#6B9AC8"/>
<rect x="1174.69" y="552.65" width="31.41" height="27.16" fill="#6B9AC8"/>
<rect x="1209.19" y="552.65" width="31.41" height="27.16" fill="#6B9AC8"/>
<rect x="1243.70" y="552.65" width="31.41" height="27.16" fill="#79A8CF"/>
<rect x="1278.20" y="552.65" width="31.41" height="27.16" fill="#709FCA"/>
<rect x="1312.71" y="552.65" width="31.41" height="27.16" fill="#709FCA"/>
<rect x="1347.22" y="552.65" width="31.41" height="27.16" fill="#6B9AC8"/>
<rect x="1381.72" y="552.65" width="31.41" height="27.16" fill="#709FCA"/>
<rect x="1416.23" y="552.65" width="31.41" height="27.16" fill="#7EACD1"/>
<rect x="1450.73" y="552.65" width="31.41" height="27.16" fill="#7EACD1"/>
<rect x="1485.24" y="552.65" width="31.41" height="27.16" fill="#A0C9E0"/>
<rect x="1519.74" y="552.65" width="31.41" height="27.16" fill="#91BFDB"/>
<rect x="1554.25" y="552.65" width="31.41" height="27.16" fill="#A5CCE2"/>
<rect x="208.55" y="582.91" width="31.41" height="27.16" fill="#7EACD1"/>
<rect x="243.06" y="582.91" width="31.41" height="27.16" fill="#7EACD1"/>
<rect x="277.56" y="582.91" width="31.41" height="27.16" fill="#6B9AC8"/>
<rect x="312.06" y="582.91" width="31.41" height="27.16" fill="#6B9AC8"/>
<rect x="346.57" y="582.91" width="31.41" height="27.16" fill="#AFD2E6"/>
<rect x="381.07" y="582.91" width="31.41" height="27.16" fill="#91BFDB"/>
<rect x="415.58" y="582.91" width="31.41" height="27.16" fill="#91BFDB"/>
<rect x="450.09" y="582.91" width="31.41" height="27.16" fill="#91BFDB"/>
<rect x="484.59" y="582.91" width="31.41" height="27.16" fill="#7EACD1"/>
<rect x="519.10" y="582.91" width="31.41" height="27.16" fill="#6B9AC8"/>
<rect x="553.60" y="582.91" width="31.41" height="27.16" fill="#B8D9EA"/>
<rect x="588.11" y="582.91" width="31.41" height="27.16" fill="#D73027"/>
<rect x="622.61" y="582.91" width="31.41" height="27.16" fill="#7EACD1"/>
<rect x="657.12" y="582.91" width="31.41" height="27.16" fill="#7EACD1"/>
<rect x="691.62" y="582.91" width="31.41" height="27.16" fill="#88B6D6"/>
<rect x="726.12" y="582.91" width="31.41" height="27.16" fill="#7EACD1"/>
<rect x="760.63" y="582.91" width="31.41" height="27.16" fill="#7EACD1"/>
<rect x="795.13" y="582.91" width="31.41" height="27.16" fill="#7EACD1"/>
<rect x="829.64" y="582.91" width="31.41" height="27.16" fill="#7EACD1"/>
<rect x="864.14" y="582.91" width="31.41" height="27.16" fill="#7EACD1"/>
<rect x="898.65" y="582.91" width="31.41" height="27.16" fill="#74A3CC"/>
<rect x="933.15" y="582.91" width="31.41" height="27.16" fill="#6B9AC8"/>
<rect x="967.66" y="582.91" width="31.41" height="27.16" fill="#91BFDB"/>
<rect x="1002.16" y="582.91" width="31.41" height="27.16" fill="#6B9AC8"/>
<rect x="1036.67" y="582.91" width="31.41" height="27.16" fill="#6B9AC8"/>
<rect x="1071.17" y="582.91" width="31.41" height="27.16" fill="#6B9AC8"/>
<rect x="1105.68" y="582.91" width="31.41" height="27.16" fill="#709FCA"/>
<rect x="1140.19" y="582.91" width="31.41" height="27.16" fill="#6B9AC8"/>
<rect x="1174.69" y="582.91" width="31.41" height="27.16" fill="#6B9AC8"/>
<rect x="1209.19" y="582.91" width="31.41" height="27.16" fill="#6B9AC8"/>
<rect x="1243.70" y="582.91" width="31.41" height="27.16" fill="#8CBAD9"/>
<rect x="1278.20" y="582.91" width="31.41" height="27.16" fill="#6B9AC8"/>
<rect x="1312.71" y="582.91" width="31.41" height="27.16" fill="#709FCA"/>
<rect x="1347.22" y="582.91" width="31.41" height="27.16" fill="#6B9AC8"/>
<rect x="1381.72" y="582.91" width="31.41" height="27.16" fill="#91BFDB"/>
<rect x="1416.23" y="582.91" width="31.41" height="27.16" fill="#709FCA"/>
<rect x="1450.73" y="582.91" width="31.41" height="27.16" fill="#6B9AC8"/>
<rect x="1485.24" y="582.91" width="31.41" height="27.16" fill="#B4D6E8"/>
<rect x="1519.74" y="582.91" width="31.41" height="27.16" fill="#7EACD1"/>
<rect x="1554.25" y="582.91" width="31.41" height="27.16" fill="#96C2DD"/>
<rect x="208.55" y="613.17" width="31.41" height="27.16" fill="#7EACD1"/>
<rect x="243.06" y="613.17" width="31.41" height="27.16" fill="#7EACD1"/>
<rect x="277.56" y="613.17" width="31.41" height="27.16" fill="#74A3CC"/>
<rect x="312.06" y="613.17" width="31.41" height="27.16" fill="#74A3CC"/>
<rect x="346.57" y="613.17" width="31.41" height="27.16" fill="#7EACD1"/>
<rect x="381.07" y="613.17" width="31.41" height="27.16" fill="#7EACD1"/>
<rect x="415.58" y="613.17" width="31.41" height="27.16" fill="#7EACD1"/>
<rect x="450.09" y="613.17" width="31.41" height="27.16" fill="#7EACD1"/>
<rect x="484.59" y="613.17" width="31.41" height="27.16" fill="#7EACD1"/>
<rect x="519.10" y="613.17" width="31.41" height="27.16" fill="#7EACD1"/>
<rect x="553.60" y="613.17" width="31.41" height="27.16" fill="#7EACD1"/>
<rect x="588.11" y="613.17" width="31.41" height="27.16" fill="#7EACD1"/>
<rect x="622.61" y="613.17" width="31.41" height="27.16" fill="#D73027"/>
<rect x="657.12" y="613.17" width="31.41" height="27.16" fill="#91BFDB"/>
<rect x="691.62" y="613.17" width="31.41" height="27.16" fill="#7EACD1"/>
<rect x="726.12" y="613.17" width="31.41" height="27.16" fill="#74A3CC"/>
<rect x="760.63" y="613.17" width="31.41" height="27.16" fill="#6B9AC8"/>
<rect x="795.13" y="613.17" width="31.41" height="27.16" fill="#6B9AC8"/>
<rect x="829.64" y="613.17" width="31.41" height="27.16" fill="#7EACD1"/>
<rect x="864.14" y="613.17" width="31.41" height="27.16" fill="#6B9AC8"/>
<rect x="898.65" y="613.17" width="31.41" height="27.16" fill="#6B9AC8"/>
<rect x="933.15" y="613.17" width="31.41" height="27.16" fill="#5D8CC0"/>
<rect x="967.66" y="613.17" width="31.41" height="27.16" fill="#6B9AC8"/>
<rect x="1002.16" y="613.17" width="31.41" height="27.16" fill="#6B9AC8"/>
<rect x="1036.67" y="613.17" width="31.41" height="27.16" fill="#6B9AC8"/>
<rect x="1071.17" y="613.17" width="31.41" height="27.16" fill="#6B9AC8"/>
<rect x="1105.68" y="613.17" width="31.41" height="27.16" fill="#6B9AC8"/>
<rect x="1140.19" y="613.17" width="31.41" height="27.16" fill="#6B9AC8"/>
<rect x="1174.69" y="613.17" width="31.41" height="27.16" fill="#5D8CC0"/>
<rect x="1209.19" y="613.17" width="31.41" height="27.16" fill="#6B9AC8"/>
<rect x="1243.70" y="613.17" width="31.41" height="27.16" fill="#709FCA"/>
<rect x="1278.20" y="613.17" width="31.41" height="27.16" fill="#6B9AC8"/>
<rect x="1312.71" y="613.17" width="31.41" height="27.16" fill="#6B9AC8"/>
<rect x="1347.22" y="613.17" width="31.41" height="27.16" fill="#6B9AC8"/>
<rect x="1381.72" y="613.17" width="31.41" height="27.16" fill="#6B9AC8"/>
<rect x="1416.23" y="613.17" width="31.41" height="27.16" fill="#6B9AC8"/>
<rect x="1450.73" y="613.17" width="31.41" height="27.16" fill="#5D8CC0"/>
<rect x="1485.24" y="613.17" width="31.41" height="27.16" fill="#6B9AC8"/>
<rect x="1519.74" y="613.17" width="31.41" height="27.16" fill="#6B9AC8"/>
<rect x="1554.25" y="613.17" width="31.41" height="27.16" fill="#6B9AC8"/>
<rect x="208.55" y="643.43" width="31.41" height="27.16" fill="#7EACD1"/>
<rect x="243.06" y="643.43" width="31.41" height="27.16" fill="#7EACD1"/>
<rect x="277.56" y="643.43" width="31.41" height="27.16" fill="#88B6D6"/>
<rect x="312.06" y="643.43" width="31.41" height="27.16" fill="#7EACD1"/>
<rect x="346.57" y="643.43" width="31.41" height="27.16" fill="#6B9AC8"/>
<rect x="381.07" y="643.43" width="31.41" height="27.16" fill="#6B9AC8"/>
<rect x="415.58" y="643.43" width="31.41" height="27.16" fill="#6B9AC8"/>
<rect x="450.09" y="643.43" width="31.41" height="27.16" fill="#6B9AC8"/>
<rect x="484.59" y="643.43" width="31.41" height="27.16" fill="#91BFDB"/>
<rect x="519.10" y="643.43" width="31.41" height="27.16" fill="#7EACD1"/>
<rect x="553.60" y="643.43" width="31.41" height="27.16" fill="#7EACD1"/>
<rect x="588.11" y="643.43" width="31.41" height="27.16" fill="#7EACD1"/>
<rect x="622.61" y="643.43" width="31.41" height="27.16" fill="#91BFDB"/>
<rect x="657.12" y="643.43" width="31.41" height="27.16" fill="#D73027"/>
<rect x="691.62" y="643.43" width="31.41" height="27.16" fill="#7EACD1"/>
<rect x="726.12" y="643.43" width="31.41" height="27.16" fill="#6B9AC8"/>
<rect x="760.63" y="643.43" width="31.41" height="27.16" fill="#6B9AC8"/>
<rect x="795.13" y="643.43" width="31.41" height="27.16" fill="#7EACD1"/>
<rect x="829.64" y="643.43" width="31.41" height="27.16" fill="#7EACD1"/>
<rect x="864.14" y="643.43" width="31.41" height="27.16" fill="#7EACD1"/>
<rect x="898.65" y="643.43" width="31.41" height="27.16" fill="#7EACD1"/>
<rect x="933.15" y="643.43" width="31.41" height="27.16" fill="#7EACD1"/>
<rect x="967.66" y="643.43" width="31.41" height="27.16" fill="#7EACD1"/>
<rect x="1002.16" y="643.43" width="31.41" height="27.16" fill="#91BFDB"/>
<rect x="1036.67" y="643.43" width="31.41" height="27.16" fill="#91BFDB"/>
<rect x="1071.17" y="643.43" width="31.41" height="27.16" fill="#91BFDB"/>
<rect x="1105.68" y="643.43" width="31.41" height="27.16" fill="#7EACD1"/>
<rect x="1140.19" y="643.43" width="31.41" height="27.16" fill="#A5CCE2"/>
<rect x="1174.69" y="643.43" width="31.41" height="27.16" fill="#A5CCE2"/>
<rect x="1209.19" y="643.43" width="31.41" height="27.16" fill="#A5CCE2"/>
<rect x="1243.70" y="643.43" width="31.41" height="27.16" fill="#8CBAD9"/>
<rect x="1278.20" y="643.43" width="31.41" height="27.16" fill="#7EACD1"/>
<rect x="1312.71" y="643.43" width="31.41" height="27.16" fill="#7EACD1"/>
<rect x="1347.22" y="643.43" width="31.41" height="27.16" fill="#6B9AC8"/>
<rect x="1381.72" y="643.43" width="31.41" height="27.16" fill="#6B9AC8"/>
<rect x="1416.23" y="643.43" width="31.41" height="27.16" fill="#6B9AC8"/>
<rect x="1450.73" y="643.43" width="31.41" height="27.16" fill="#7EACD1"/>
<rect x="1485.24" y="643.43" width="31.41" height="27.16" fill="#7EACD1"/>
<rect x="1519.74" y="643.43" width="31.41" height="27.16" fill="#6B9AC8"/>
<rect x="1554.25" y="643.43" width="31.41" height="27.16" fill="#79A8CF"/>
<rect x="208.55" y="673.69" width="31.41" height="27.16" fill="#7EACD1"/>
<rect x="243.06" y="673.69" width="31.41" height="27.16" fill="#7EACD1"/>
<rect x="277.56" y="673.69" width="31.41" height="27.16" fill="#7EACD1"/>
<rect x="312.06" y="673.69" width="31.41" height="27.16" fill="#91BFDB"/>
<rect x="346.57" y="673.69" width="31.41" height="27.16" fill="#7EACD1"/>
<rect x="381.07" y="673.69" width="31.41" height="27.16" fill="#91BFDB"/>
<rect x="415.58" y="673.69" width="31.41" height="27.16" fill="#91BFDB"/>
<rect x="450.09" y="673.69" width="31.41" height="27.16" fill="#7EACD1"/>
<rect x="484.59" y="673.69" width="31.41" height="27.16" fill="#6B9AC8"/>
<rect x="519.10" y="673.69" width="31.41" height="27.16" fill="#7EACD1"/>
<rect x="553.60" y="673.69" width="31.41" height="27.16" fill="#7EACD1"/>
<rect x="588.11" y="673.69" width="31.41" height="27.16" fill="#88B6D6"/>
<rect x="622.61" y="673.69" width="31.41" height="27.16" fill="#7EACD1"/>
<rect x="657.12" y="673.69" width="31.41" height="27.16" fill="#7EACD1"/>
<rect x="691.62" y="673.69" width="31.41" height="27.16" fill="#D73027"/>
<rect x="726.12" y="673.69" width="31.41" height="27.16" fill="#E0F3F8"/>
<rect x="760.63" y="673.69" width="31.41" height="27.16" fill="#FEE090"/>
<rect x="795.13" y="673.69" width="31.41" height="27.16" fill="#FFFFBF"/>
<rect x="829.64" y="673.69" width="31.41" height="27.16" fill="#E8F6EA"/>
<rect x="864.14" y="673.69" width="31.41" height="27.16" fill="#FFF7B3"/>
<rect x="898.65" y="673.69" width="31.41" height="27.16" fill="#FFFFBF"/>
<rect x="933.15" y="673.69" width="31.41" height="27.16" fill="#FFFFBF"/>
<rect x="967.66" y="673.69" width="31.41" height="27.16" fill="#F0F9DC"/>
<rect x="1002.16" y="673.69" width="31.41" height="27.16" fill="#CCE6F1"/>
<rect x="1036.67" y="673.69" width="31.41" height="27.16" fill="#B8D9EA"/>
<rect x="1071.17" y="673.69" width="31.41" height="27.16" fill="#A5CCE2"/>
<rect x="1105.68" y="673.69" width="31.41" height="27.16" fill="#C2E0ED"/>
<rect x="1140.19" y="673.69" width="31.41" height="27.16" fill="#A5CCE2"/>
<rect x="1174.69" y="673.69" width="31.41" height="27.16" fill="#A5CCE2"/>
<rect x="1209.19" y="673.69" width="31.41" height="27.16" fill="#7EACD1"/>
<rect x="1243.70" y="673.69" width="31.41" height="27.16" fill="#B4D6E8"/>
<rect x="1278.20" y="673.69" width="31.41" height="27.16" fill="#A0C9E0"/>
<rect x="1312.71" y="673.69" width="31.41" height="27.16" fill="#91BFDB"/>
<rect x="1347.22" y="673.69" width="31.41" height="27.16" fill="#B8D9EA"/>
<rect x="1381.72" y="673.69" width="31.41" height="27.16" fill="#F0F9DC"/>
<rect x="1416.23" y="673.69" width="31.41" height="27.16" fill="#E2F4F4"/>
<rect x="1450.73" y="673.69" width="31.41" height="27.16" fill="#F1FAD8"/>
<rect x="1485.24" y="673.69" width="31.41" height="27.16" fill="#B4D6E8"/>
<rect x="1519.74" y="673.69" width="31.41" height="27.16" fill="#96C2DD"/>
<rect x="1554.25" y="673.69" width="31.41" height="27.16" fill="#CCE6F1"/>
<rect x="208.55" y="703.95" width="31.41" height="27.16" fill="#91BFDB"/>
<rect x="243.06" y="703.95" width="31.41" height="27.16" fill="#A5CCE2"/>
<rect x="277.56" y="703.95" width="31.41" height="27.16" fill="#7EACD1"/>
<rect x="312.06" y="703.95" width="31.41" height="27.16" fill="#CCE6F1"/>
<rect x="346.57" y="703.95" width="31.41" height="27.16" fill="#5888BE"/>
<rect x="381.07" y="703.95" width="31.41" height="27.16" fill="#6B9AC8"/>
<rect x="415.58" y="703.95" width="31.41" height="27.16" fill="#7EACD1"/>
<rect x="450.09" y="703.95" width="31.41" height="27.16" fill="#7EACD1"/>
<rect x="484.59" y="703.95" width="31.41" height="27.16" fill="#6B9AC8"/>
<rect x="519.10" y="703.95" width="31.41" height="27.16" fill="#7EACD1"/>
<rect x="553.60" y="703.95" width="31.41" height="27.16" fill="#7EACD1"/>
<rect x="588.11" y="703.95" width="31.41" height="27.16" fill="#7EACD1"/>
<rect x="622.61" y="703.95" width="31.41" height="27.16" fill="#74A3CC"/>
<rect x="657.12" y="703.95" width="31.41" height="27.16" fill="#6B9AC8"/>
<rect x="691.62" y="703.95" width="31.41" height="27.16" fill="#E0F3F8"/>
<rect x="726.12" y="703.95" width="31.41" height="27.16" fill="#D73027"/>
<rect x="760.63" y="703.95" width="31.41" height="27.16" fill="#FDB674"/>
<rect x="795.13" y="703.95" width="31.41" height="27.16" fill="#FDB674"/>
<rect x="829.64" y="703.95" width="31.41" height="27.16" fill="#FFF3AD"/>
<rect x="864.14" y="703.95" width="31.41" height="27.16" fill="#FEE89C"/>
<rect x="898.65" y="703.95" width="31.41" height="27.16" fill="#FEE496"/>
<rect x="933.15" y="703.95" width="31.41" height="27.16" fill="#FEE89C"/>
<rect x="967.66" y="703.95" width="31.41" height="27.16" fill="#91BFDB"/>
<rect x="1002.16" y="703.95" width="31.41" height="27.16" fill="#91BFDB"/>
<rect x="1036.67" y="703.95" width="31.41" height="27.16" fill="#A5CCE2"/>
<rect x="1071.17" y="703.95" width="31.41" height="27.16" fill="#A5CCE2"/>
<rect x="1105.68" y="703.95" width="31.41" height="27.16" fill="#A5CCE2"/>
<rect x="1140.19" y="703.95" width="31.41" height="27.16" fill="#91BFDB"/>
<rect x="1174.69" y="703.95" width="31.41" height="27.16" fill="#B8D9EA"/>
<rect x="1209.19" y="703.95" width="31.41" height="27.16" fill="#4A7AB6"/>
<rect x="1243.70" y="703.95" width="31.41" height="27.16" fill="#6695C5"/>
<rect x="1278.20" y="703.95" width="31.41" height="27.16" fill="#A5CCE2"/>
<rect x="1312.71" y="703.95" width="31.41" height="27.16" fill="#7EACD1"/>
<rect x="1347.22" y="703.95" width="31.41" height="27.16" fill="#E8F6EA"/>
<rect x="1381.72" y="703.95" width="31.41" height="27.16" fill="#B8D9EA"/>
<rect x="1416.23" y="703.95" width="31.41" height="27.16" fill="#A5CCE2"/>
<rect x="1450.73" y="703.95" width="31.41" height="27.16" fill="#E0F3F8"/>
<rect x="1485.24" y="703.95" width="31.41" height="27.16" fill="#91BFDB"/>
<rect x="1519.74" y="703.95" width="31.41" height="27.16" fill="#E0F3F8"/>
<rect x="1554.25" y="703.95" width="31.41" height="27.16" fill="#D1E9F3"/>
<rect x="208.55" y="734.21" width="31.41" height="27.16" fill="#91BFDB"/>
<rect x="243.06" y="734.21" width="31.41" height="27.16" fill="#A5CCE2"/>
<rect x="277.56" y="734.21" width="31.41" height="27.16" fill="#7EACD1"/>
<rect x="312.06" y="734.21" width="31.41" height="27.16" fill="#CCE6F1"/>
<rect x="346.57" y="734.21" width="31.41" height="27.16" fill="#6B9AC8"/>
<rect x="381.07" y="734.21" width="31.41" height="27.16" fill="#91BFDB"/>
<rect x="415.58" y="734.21" width="31.41" height="27.16" fill="#88B6D6"/>
<rect x="450.09" y="734.21" width="31.41" height="27.16" fill="#7EACD1"/>
<rect x="484.59" y="734.21" width="31.41" height="27.16" fill="#5888BE"/>
<rect x="519.10" y="734.21" width="31.41" height="27.16" fill="#7EACD1"/>
<rect x="553.60" y="734.21" width="31.41" height="27.16" fill="#7EACD1"/>
<rect x="588.11" y="734.21" width="31.41" height="27.16" fill="#7EACD1"/>
<rect x="622.61" y="734.21" width="31.41" height="27.16" fill="#6B9AC8"/>
<rect x="657.12" y="734.21" width="31.41" height="27.16" fill="#6B9AC8"/>
<rect x="691.62" y="734.21" width="31.41" height="27.16" fill="#FEE090"/>
<rect x="726.12" y="734.21" width="31.41" height="27.16" fill="#FDB674"/>
<rect x="760.63" y="734.21" width="31.41" height="27.16" fill="#D73027"/>
<rect x="795.13" y="734.21" width="31.41" height="27.16" fill="#FECB82"/>
<rect x="829.64" y="734.21" width="31.41" height="27.16" fill="#FFF3AD"/>
<rect x="864.14" y="734.21" width="31.41" height="27.16" fill="#FEE090"/>
<rect x="898.65" y="734.21" width="31.41" height="27.16" fill="#FEE090"/>
<rect x="933.15" y="734.21" width="31.41" height="27.16" fill="#FEE89C"/>
<rect x="967.66" y="734.21" width="31.41" height="27.16" fill="#CCE6F1"/>
<rect x="1002.16" y="734.21" width="31.41" height="27.16" fill="#A5CCE2"/>
<rect x="1036.67" y="734.21" width="31.41" height="27.16" fill="#B8D9EA"/>
<rect x="1071.17" y="734.21" width="31.41" height="27.16" fill="#A5CCE2"/>
<rect x="1105.68" y="734.21" width="31.41" height="27.16" fill="#B8D9EA"/>
<rect x="1140.19" y="734.21" width="31.41" height="27.16" fill="#91BFDB"/>
<rect x="1174.69" y="734.21" width="31.41" height="27.16" fill="#A5CCE2"/>
<rect x="1209.19" y="734.21" width="31.41" height="27.16" fill="#6B9AC8"/>
<rect x="1243.70" y="734.21" width="31.41" height="27.16" fill="#7EACD1"/>
<rect x="1278.20" y="734.21" width="31.41" height="27.16" fill="#A0C9E0"/>
<rect x="1312.71" y="734.21" width="31.41" height="27.16" fill="#7EACD1"/>
<rect x="1347.22" y="734.21" width="31.41" height="27.16" fill="#E8F6EA"/>
<rect x="1381.72" y="734.21" width="31.41" height="27.16" fill="#F7FCCD"/>
<rect x="1416.23" y="734.21" width="31.41" height="27.16" fill="#E8F6EA"/>
<rect x="1450.73" y="734.21" width="31.41" height="27.16" fill="#F7FCCD"/>
<rect x="1485.24" y="734.21" width="31.41" height="27.16" fill="#B4D6E8"/>
<rect x="1519.74" y="734.21" width="31.41" height="27.16" fill="#E0F3F8"/>
<rect x="1554.25" y="734.21" width="31.41" height="27.16" fill="#EAF7E6"/>
<rect x="208.55" y="764.47" width="31.41" height="27.16" fill="#6B9AC8"/>
<rect x="243.06" y="764.47" width="31.41" height="27.16" fill="#7EACD1"/>
<rect x="277.56" y="764.47" width="31.41" height="27.16" fill="#74A3CC"/>
<rect x="312.06" y="764.47" width="31.41" height="27.16" fill="#A5CCE2"/>
<rect x="346.57" y="764.47" width="31.41" height="27.16" fill="#5888BE"/>
<rect x="381.07" y="764.47" width="31.41" height="27.16" fill="#7EACD1"/>
<rect x="415.58" y="764.47" width="31.41" height="27.16" fill="#7EACD1"/>
<rect x="450.09" y="764.47" width="31.41" height="27.16" fill="#7EACD1"/>
<rect x="484.59" y="764.47" width="31.41" height="27.16" fill="#6B9AC8"/>
<rect x="519.10" y="764.47" width="31.41" height="27.16" fill="#91BFDB"/>
<rect x="553.60" y="764.47" width="31.41" height="27.16" fill="#7EACD1"/>
<rect x="588.11" y="764.47" width="31.41" height="27.16" fill="#7EACD1"/>
<rect x="622.61" y="764.47" width="31.41" height="27.16" fill="#6B9AC8"/>
<rect x="657.12" y="764.47" width="31.41" height="27.16" fill="#7EACD1"/>
<rect x="691.62" y="764.47" width="31.41" height="27.16" fill="#FFFFBF"/>
<rect x="726.12" y="764.47" width="31.41" height="27.16" fill="#FDB674"/>
<rect x="760.63" y="764.47" width="31.41" height="27.16" fill="#FECB82"/>
<rect x="795.13" y="764.47" width="31.41" height="27.16" fill="#D73027"/>
<rect x="829.64" y="764.47" width="31.41" height="27.16" fill="#FFF7B3"/>
<rect x="864.14" y="764.47" width="31.41" height="27.16" fill="#FEE89C"/>
<rect x="898.65" y="764.47" width="31.41" height="27.16" fill="#FECB82"/>
<rect x="933.15" y="764.47" width="31.41" height="27.16" fill="#FEE293"/>
<rect x="967.66" y="764.47" width="31.41" height="27.16" fill="#B8D9EA"/>
<rect x="1002.16" y="764.47" width="31.41" height="27.16" fill="#E0F3F8"/>
<rect x="1036.67" y="764.47" width="31.41" height="27.16" fill="#E0F3F8"/>
<rect x="1071.17" y="764.47" width="31.41" height="27.16" fill="#CCE6F1"/>
<rect x="1105.68" y="764.47" width="31.41" height="27.16" fill="#CCE6F1"/>
<rect x="1140.19" y="764.47" width="31.41" height="27.16" fill="#A5CCE2"/>
<rect x="1174.69" y="764.47" width="31.41" height="27.16" fill="#E0F3F8"/>
<rect x="1209.19" y="764.47" width="31.41" height="27.16" fill="#6B9AC8"/>
<rect x="1243.70" y="764.47" width="31.41" height="27.16" fill="#7EACD1"/>
<rect x="1278.20" y="764.47" width="31.41" height="27.16" fill="#A0C9E0"/>
<rect x="1312.71" y="764.47" width="31.41" height="27.16" fill="#91BFDB"/>
<rect x="1347.22" y="764.47" width="31.41" height="27.16" fill="#F7FCCD"/>
<rect x="1381.72" y="764.47" width="31.41" height="27.16" fill="#E8F6EA"/>
<rect x="1416.23" y="764.47" width="31.41" height="27.16" fill="#F0F9DC"/>
<rect x="1450.73" y="764.47" width="31.41" height="27.16" fill="#F7FCCD"/>
<rect x="1485.24" y="764.47" width="31.41" height="27.16" fill="#A0C9E0"/>
<rect x="1519.74" y="764.47" width="31.41" height="27.16" fill="#E0F3F8"/>
<rect x="1554.25" y="764.47" width="31.41" height="27.16" fill="#E0F3F8"/>
<rect x="208.55" y="794.73" width="31.41" height="27.16" fill="#6B9AC8"/>
<rect x="243.06" y="794.73" width="31.41" height="27.16" fill="#7EACD1"/>
<rect x="277.56" y="794.73" width="31.41" height="27.16" fill="#6B9AC8"/>
<rect x="312.06" y="794.73" width="31.41" height="27.16" fill="#91BFDB"/>
<rect x="346.57" y="794.73" width="31.41" height="27.16" fill="#74A3CC"/>
<rect x="381.07" y="794.73" width="31.41" height="27.16" fill="#A5CCE2"/>
<rect x="415.58" y="794.73" width="31.41" height="27.16" fill="#7EACD1"/>
<rect x="450.09" y="794.73" width="31.41" height="27.16" fill="#7EACD1"/>
<rect x="484.59" y="794.73" width="31.41" height="27.16" fill="#B8D9EA"/>
<rect x="519.10" y="794.73" width="31.41" height="27.16" fill="#91BFDB"/>
<rect x="553.60" y="794.73" width="31.41" height="27.16" fill="#7EACD1"/>
<rect x="588.11" y="794.73" width="31.41" height="27.16" fill="#7EACD1"/>
<rect x="622.61" y="794.73" width="31.41" height="27.16" fill="#7EACD1"/>
<rect x="657.12" y="794.73" width="31.41" height="27.16" fill="#7EACD1"/>
<rect x="691.62" y="794.73" width="31.41" height="27.16" fill="#E8F6EA"/>
<rect x="726.12" y="794.73" width="31.41" height="27.16" fill="#FFF3AD"/>
<rect x="760.63" y="794.73" width="31.41" height="27.16" fill="#FFF3AD"/>
<rect x="795.13" y="794.73" width="31.41" height="27.16" fill="#FFF7B3"/>
<rect x="829.64" y="794.73" width="31.41" height="27.16" fill="#D73027"/>
<rect x="864.14" y="794.73" width="31.41" height="27.16" fill="#FFFFBF"/>
<rect x="898.65" y="794.73" width="31.41" height="27.16" fill="#FFFFBF"/>
<rect x="933.15" y="794.73" width="31.41" height="27.16" fill="#FFFFBF"/>
<rect x="967.66" y="794.73" width="31.41" height="27.16" fill="#CCE6F1"/>
<rect x="1002.16" y="794.73" width="31.41" height="27.16" fill="#B8D9EA"/>
<rect x="1036.67" y="794.73" width="31.41" height="27.16" fill="#B8D9EA"/>
<rect x="1071.17" y="794.73" width="31.41" height="27.16" fill="#B8D9EA"/>
<rect x="1105.68" y="794.73" width="31.41" height="27.16" fill="#C2E0ED"/>
<rect x="1140.19" y="794.73" width="31.41" height="27.16" fill="#A5CCE2"/>
<rect x="1174.69" y="794.73" width="31.41" height="27.16" fill="#B8D9EA"/>
<rect x="1209.19" y="794.73" width="31.41" height="27.16" fill="#A5CCE2"/>
<rect x="1243.70" y="794.73" width="31.41" height="27.16" fill="#F0F9DC"/>
<rect x="1278.20" y="794.73" width="31.41" height="27.16" fill="#E8F6EA"/>
<rect x="1312.71" y="794.73" width="31.41" height="27.16" fill="#B4D6E8"/>
<rect x="1347.22" y="794.73" width="31.41" height="27.16" fill="#F0F9DC"/>
<rect x="1381.72" y="794.73" width="31.41" height="27.16" fill="#F0F9DC"/>
<rect x="1416.23" y="794.73" width="31.41" height="27.16" fill="#F0F9DC"/>
<rect x="1450.73" y="794.73" width="31.41" height="27.16" fill="#F5FBD1"/>
<rect x="1485.24" y="794.73" width="31.41" height="27.16" fill="#CCE6F1"/>
<rect x="1519.74" y="794.73" width="31.41" height="27.16" fill="#E8F6EA"/>
<rect x="1554.25" y="794.73" width="31.41" height="27.16" fill="#E8F6EA"/>
<rect x="208.55" y="824.99" width="31.41" height="27.16" fill="#74A3CC"/>
<rect x="243.06" y="824.99" width="31.41" height="27.16" fill="#7EACD1"/>
<rect x="277.56" y="824.99" width="31.41" height="27.16" fill="#91BFDB"/>
<rect x="312.06" y="824.99" width="31.41" height="27.16" fill="#AFD2E6"/>
<rect x="346.57" y="824.99" width="31.41" height="27.16" fill="#4E7EB9"/>
<rect x="381.07" y="824.99" width="31.41" height="27.16" fill="#5888BE"/>
<rect x="415.58" y="824.99" width="31.41" height="27.16" fill="#7EACD1"/>
<rect x="450.09" y="824.99" width="31.41" height="27.16" fill="#7EACD1"/>
<rect x="484.59" y="824.99" width="31.41" height="27.16" fill="#7EACD1"/>
<rect x="519.10" y="824.99" width="31.41" height="27.16" fill="#9BC6DF"/>
<rect x="553.60" y="824.99" width="31.41" height="27.16" fill="#7EACD1"/>
<rect x="588.11" y="824.99" width="31.41" height="27.16" fill="#7EACD1"/>
<rect x="622.61" y="824.99" width="31.41" height="27.16" fill="#6B9AC8"/>
<rect x="657.12" y="824.99" width="31.41" height="27.16" fill="#7EACD1"/>
<rect x="691.62" y="824.99" width="31.41" height="27.16" fill="#FFF7B3"/>
<rect x="726.12" y="824.99" width="31.41" height="27.16" fill="#FEE89C"/>
<rect x="760.63" y="824.99" width="31.41" height="27.16" fill="#FEE090"/>
<rect x="795.13" y="824.99" width="31.41" height="27.16" fill="#FEE89C"/>
<rect x="829.64" y="824.99" width="31.41" height="27.16" fill="#FFFFBF"/>
<rect x="864.14" y="824.99" width="31.41" height="27.16" fill="#D73027"/>
<rect x="898.65" y="824.99" width="31.41" height="27.16" fill="#FEE89C"/>
<rect x="933.15" y="824.99" width="31.41" height="27.16" fill="#FEE89C"/>
<rect x="967.66" y="824.99" width="31.41" height="27.16" fill="#F7FCCD"/>
<rect x="1002.16" y="824.99" width="31.41" height="27.16" fill="#E0F3F8"/>
<rect x="1036.67" y="824.99" width="31.41" height="27.16" fill="#E8F6EA"/>
<rect x="1071.17" y="824.99" width="31.41" height="27.16" fill="#CCE6F1"/>
<rect x="1105.68" y="824.99" width="31.41" height="27.16" fill="#E8F6EA"/>
<rect x="1140.19" y="824.99" width="31.41" height="27.16" fill="#B8D9EA"/>
<rect x="1174.69" y="824.99" width="31.41" height="27.16" fill="#CCE6F1"/>
<rect x="1209.19" y="824.99" width="31.41" height="27.16" fill="#91BFDB"/>
<rect x="1243.70" y="824.99" width="31.41" height="27.16" fill="#A5CCE2"/>
<rect x="1278.20" y="824.99" width="31.41" height="27.16" fill="#DBF0F6"/>
<rect x="1312.71" y="824.99" width="31.41" height="27.16" fill="#CCE6F1"/>
<rect x="1347.22" y="824.99" width="31.41" height="27.16" fill="#F7FCCD"/>
<rect x="1381.72" y="824.99" width="31.41" height="27.16" fill="#FFFDBC"/>
<rect x="1416.23" y="824.99" width="31.41" height="27.16" fill="#F9FDCA"/>
<rect x="1450.73" y="824.99" width="31.41" height="27.16" fill="#FFFFBF"/>
<rect x="1485.24" y="824.99" width="31.41" height="27.16" fill="#E8F6EA"/>
<rect x="1519.74" y="824.99" width="31.41" height="27.16" fill="#F0F9DC"/>
<rect x="1554.25" y="824.99" width="31.41" height="27.16" fill="#F9FDCA"/>
<rect x="208.55" y="855.25" width="31.41" height="27.16" fill="#7EACD1"/>
<rect x="243.06" y="855.25" width="31.41" height="27.16" fill="#91BFDB"/>
<rect x="277.56" y="855.25" width="31.41" height="27.16" fill="#7EACD1"/>
<rect x="312.06" y="855.25" width="31.41" height="27.16" fill="#A5CCE2"/>
<rect x="346.57" y="855.25" width="31.41" height="27.16" fill="#4E7EB9"/>
<rect x="381.07" y="855.25" width="31.41" height="27.16" fill="#6291C3"/>
<rect x="415.58" y="855.25" width="31.41" height="27.16" fill="#7EACD1"/>
<rect x="450.09" y="855.25" width="31.41" height="27.16" fill="#7EACD1"/>
<rect x="484.59" y="855.25" width="31.41" height="27.16" fill="#7EACD1"/>
<rect x="519.10" y="855.25" width="31.41" height="27.16" fill="#91BFDB"/>
<rect x="553.60" y="855.25" width="31.41" height="27.16" fill="#88B6D6"/>
<rect x="588.11" y="855.25" width="31.41" height="27.16" fill="#74A3CC"/>
<rect x="622.61" y="855.25" width="31.41" height="27.16" fill="#6B9AC8"/>
<rect x="657.12" y="855.25" width="31.41" height="27.16" fill="#7EACD1"/>
<rect x="691.62" y="855.25" width="31.41" height="27.16" fill="#FFFFBF"/>
<rect x="726.12" y="855.25" width="31.41" height="27.16" fill="#FEE496"/>
<rect x="760.63" y="855.25" width="31.41" height="27.16" fill="#FEE090"/>
<rect x="795.13" y="855.25" width="31.41" height="27.16" fill="#FECB82"/>
<rect x="829.64" y="855.25" width="31.41" height="27.16" fill="#FFFFBF"/>
<rect x="864.14" y="855.25" width="31.41" height="27.16" fill="#FEE89C"/>
<rect x="898.65" y="855.25" width="31.41" height="27.16" fill="#D73027"/>
<rect x="933.15" y="855.25" width="31.41" height="27.16" fill="#FEE090"/>
<rect x="967.66" y="855.25" width="31.41" height="27.16" fill="#E0F3F8"/>
<rect x="1002.16" y="855.25" width="31.41" height="27.16" fill="#E0F3F8"/>
<rect x="1036.67" y="855.25" width="31.41" height="27.16" fill="#E4F4F1"/>
<rect x="1071.17" y="855.25" width="31.41" height="27.16" fill="#E0F3F8"/>
<rect x="1105.68" y="855.25" width="31.41" height="27.16" fill="#E0F3F8"/>
<rect x="1140.19" y="855.25" width="31.41" height="27.16" fill="#E4F4F1"/>
<rect x="1174.69" y="855.25" width="31.41" height="27.16" fill="#D6ECF4"/>
<rect x="1209.19" y="855.25" width="31.41" height="27.16" fill="#A5CCE2"/>
<rect x="1243.70" y="855.25" width="31.41" height="27.16" fill="#91BFDB"/>
<rect x="1278.20" y="855.25" width="31.41" height="27.16" fill="#A5CCE2"/>
<rect x="1312.71" y="855.25" width="31.41" height="27.16" fill="#A5CCE2"/>
<rect x="1347.22" y="855.25" width="31.41" height="27.16" fill="#FBFEC6"/>
<rect x="1381.72" y="855.25" width="31.41" height="27.16" fill="#F3FAD4"/>
<rect x="1416.23" y="855.25" width="31.41" height="27.16" fill="#FFFFBF"/>
<rect x="1450.73" y="855.25" width="31.41" height="27.16" fill="#FFFBB9"/>
<rect x="1485.24" y="855.25" width="31.41" height="27.16" fill="#CCE6F1"/>
<rect x="1519.74" y="855.25" width="31.41" height="27.16" fill="#F3FAD4"/>
<rect x="1554.25" y="855.25" width="31.41" height="27.16" fill="#F3FAD4"/>
<rect x="208.55" y="885.51" width="31.41" height="27.16" fill="#7EACD1"/>
<rect x="243.06" y="885.51" width="31.41" height="27.16" fill="#91BFDB"/>
<rect x="277.56" y="885.51" width="31.41" height="27.16" fill="#7EACD1"/>
<rect x="312.06" y="885.51" width="31.41" height="27.16" fill="#A5CCE2"/>
<rect x="346.57" y="885.51" width="31.41" height="27.16" fill="#5888BE"/>
<rect x="381.07" y="885.51" width="31.41" height="27.16" fill="#6291C3"/>
<rect x="415.58" y="885.51" width="31.41" height="27.16" fill="#79A8CF"/>
<rect x="450.09" y="885.51" width="31.41" height="27.16" fill="#7EACD1"/>
<rect x="484.59" y="885.51" width="31.41" height="27.16" fill="#91BFDB"/>
<rect x="519.10" y="885.51" width="31.41" height="27.16" fill="#9BC6DF"/>
<rect x="553.60" y="885.51" width="31.41" height="27.16" fill="#7EACD1"/>
<rect x="588.11" y="885.51" width="31.41" height="27.16" fill="#6B9AC8"/>
<rect x="622.61" y="885.51" width="31.41" height="27.16" fill="#5D8CC0"/>
<rect x="657.12" y="885.51" width="31.41" height="27.16" fill="#7EACD1"/>
<rect x="691.62" y="885.51" width="31.41" height="27.16" fill="#FFFFBF"/>
<rect x="726.12" y="885.51" width="31.41" height="27.16" fill="#FEE89C"/>
<rect x="760.63" y="885.51" width="31.41" height="27.16" fill="#FEE89C"/>
<rect x="795.13" y="885.51" width="31.41" height="27.16" fill="#FEE293"/>
<rect x="829.64" y="885.51" width="31.41" height="27.16" fill="#FFFFBF"/>
<rect x="864.14" y="885.51" width="31.41" height="27.16" fill="#FEE89C"/>
<rect x="898.65" y="885.51" width="31.41" height="27.16" fill="#FEE090"/>
<rect x="933.15" y="885.51" width="31.41" height="27.16" fill="#D73027"/>
<rect x="967.66" y="885.51" width="31.41" height="27.16" fill="#E8F6EA"/>
<rect x="1002.16" y="885.51" width="31.41" height="27.16" fill="#F0F9DC"/>
<rect x="1036.67" y="885.51" width="31.41" height="27.16" fill="#F7FCCD"/>
<rect x="1071.17" y="885.51" width="31.41" height="27.16" fill="#E0F3F8"/>
<rect x="1105.68" y="885.51" width="31.41" height="27.16" fill="#E4F4F1"/>
<rect x="1140.19" y="885.51" width="31.41" height="27.16" fill="#E4F4F1"/>
<rect x="1174.69" y="885.51" width="31.41" height="27.16" fill="#E8F6EA"/>
<rect x="1209.19" y="885.51" width="31.41" height="27.16" fill="#BDDCEB"/>
<rect x="1243.70" y="885.51" width="31.41" height="27.16" fill="#A5CCE2"/>
<rect x="1278.20" y="885.51" width="31.41" height="27.16" fill="#BDDCEB"/>
<rect x="1312.71" y="885.51" width="31.41" height="27.16" fill="#C2E0ED"/>
<rect x="1347.22" y="885.51" width="31.41" height="27.16" fill="#FFF7B3"/>
<rect x="1381.72" y="885.51" width="31.41" height="27.16" fill="#FFFFBF"/>
<rect x="1416.23" y="885.51" width="31.41" height="27.16" fill="#FFFBB9"/>
<rect x="1450.73" y="885.51" width="31.41" height="27.16" fill="#FEF0A8"/>
<rect x="1485.24" y="885.51" width="31.41" height="27.16" fill="#C2E0ED"/>
<rect x="1519.74" y="885.51" width="31.41" height="27.16" fill="#FFFFBF"/>
<rect x="1554.25" y="885.51" width="31.41" height="27.16" fill="#F3FAD4"/>
<rect x="208.55" y="915.77" width="31.41" height="27.16" fill="#74A3CC"/>
<rect x="243.06" y="915.77" width="31.41" height="27.16" fill="#6B9AC8"/>
<rect x="277.56" y="915.77" width="31.41" height="27.16" fill="#A5CCE2"/>
<rect x="312.06" y="915.77" width="31.41" height="27.16" fill="#7EACD1"/>
<rect x="346.57" y="915.77" width="31.41" height="27.16" fill="#6B9AC8"/>
<rect x="381.07" y="915.77" width="31.41" height="27.16" fill="#5D8CC0"/>
<rect x="415.58" y="915.77" width="31.41" height="27.16" fill="#7EACD1"/>
<rect x="450.09" y="915.77" width="31.41" height="27.16" fill="#6B9AC8"/>
<rect x="484.59" y="915.77" width="31.41" height="27.16" fill="#CCE6F1"/>
<rect x="519.10" y="915.77" width="31.41" height="27.16" fill="#A5CCE2"/>
<rect x="553.60" y="915.77" width="31.41" height="27.16" fill="#7EACD1"/>
<rect x="588.11" y="915.77" width="31.41" height="27.16" fill="#91BFDB"/>
<rect x="622.61" y="915.77" width="31.41" height="27.16" fill="#6B9AC8"/>
<rect x="657.12" y="915.77" width="31.41" height="27.16" fill="#7EACD1"/>
<rect x="691.62" y="915.77" width="31.41" height="27.16" fill="#F0F9DC"/>
<rect x="726.12" y="915.77" width="31.41" height="27.16" fill="#91BFDB"/>
<rect x="760.63" y="915.77" width="31.41" height="27.16" fill="#CCE6F1"/>
<rect x="795.13" y="915.77" width="31.41" height="27.16" fill="#B8D9EA"/>
<rect x="829.64" y="915.77" width="31.41" height="27.16" fill="#CCE6F1"/>
<rect x="864.14" y="915.77" width="31.41" height="27.16" fill="#F7FCCD"/>
<rect x="898.65" y="915.77" width="31.41" height="27.16" fill="#E0F3F8"/>
<rect x="933.15" y="915.77" width="31.41" height="27.16" fill="#E8F6EA"/>
<rect x="967.66" y="915.77" width="31.41" height="27.16" fill="#D73027"/>
<rect x="1002.16" y="915.77" width="31.41" height="27.16" fill="#FEE89C"/>
<rect x="1036.67" y="915.77" width="31.41" height="27.16" fill="#FFF3AD"/>
<rect x="1071.17" y="915.77" width="31.41" height="27.16" fill="#FEF0A8"/>
<rect x="1105.68" y="915.77" width="31.41" height="27.16" fill="#FEE89C"/>
<rect x="1140.19" y="915.77" width="31.41" height="27.16" fill="#FFFBB9"/>
<rect x="1174.69" y="915.77" width="31.41" height="27.16" fill="#FFFBB9"/>
<rect x="1209.19" y="915.77" width="31.41" height="27.16" fill="#F3FAD4"/>
<rect x="1243.70" y="915.77" width="31.41" height="27.16" fill="#F7FCCD"/>
<rect x="1278.20" y="915.77" width="31.41" height="27.16" fill="#F7FCCD"/>
<rect x="1312.71" y="915.77" width="31.41" height="27.16" fill="#FFFBB9"/>
<rect x="1347.22" y="915.77" width="31.41" height="27.16" fill="#CCE6F1"/>
<rect x="1381.72" y="915.77" width="31.41" height="27.16" fill="#FBFEC6"/>
<rect x="1416.23" y="915.77" width="31.41" height="27.16" fill="#F3FAD4"/>
<rect x="1450.73" y="915.77" width="31.41" height="27.16" fill="#F3FAD4"/>
<rect x="1485.24" y="915.77" width="31.41" height="27.16" fill="#ECF8E3"/>
<rect x="1519.74" y="915.77" width="31.41" height="27.16" fill="#C2E0ED"/>
<rect x="1554.25" y="915.77" width="31.41" height="27.16" fill="#A5CCE2"/>
<rect x="208.55" y="946.03" width="31.41" height="27.16" fill="#7EACD1"/>
<rect x="243.06" y="946.03" width="31.41" height="27.16" fill="#6B9AC8"/>
<rect x="277.56" y="946.03" width="31.41" height="27.16" fill="#A5CCE2"/>
<rect x="312.06" y="946.03" width="31.41" height="27.16" fill="#7EACD1"/>
<rect x="346.57" y="946.03" width="31.41" height="27.16" fill="#6291C3"/>
<rect x="381.07" y="946.03" width="31.41" height="27.16" fill="#6291C3"/>
<rect x="415.58" y="946.03" width="31.41" height="27.16" fill="#5888BE"/>
<rect x="450.09" y="946.03" width="31.41" height="27.16" fill="#5D8CC0"/>
<rect x="484.59" y="946.03" width="31.41" height="27.16" fill="#E0F3F8"/>
<rect x="519.10" y="946.03" width="31.41" height="27.16" fill="#A5CCE2"/>
<rect x="553.60" y="946.03" width="31.41" height="27.16" fill="#6B9AC8"/>
<rect x="588.11" y="946.03" width="31.41" height="27.16" fill="#6B9AC8"/>
<rect x="622.61" y="946.03" width="31.41" height="27.16" fill="#6B9AC8"/>
<rect x="657.12" y="946.03" width="31.41" height="27.16" fill="#91BFDB"/>
<rect x="691.62" y="946.03" width="31.41" height="27.16" fill="#CCE6F1"/>
<rect x="726.12" y="946.03" width="31.41" height="27.16" fill="#91BFDB"/>
<rect x="760.63" y="946.03" width="31.41" height="27.16" fill="#A5CCE2"/>
<rect x="795.13" y="946.03" width="31.41" height="27.16" fill="#E0F3F8"/>
<rect x="829.64" y="946.03" width="31.41" height="27.16" fill="#B8D9EA"/>
<rect x="864.14" y="946.03" width="31.41" height="27.16" fill="#E0F3F8"/>
<rect x="898.65" y="946.03" width="31.41" height="27.16" fill="#E0F3F8"/>
<rect x="933.15" y="946.03" width="31.41" height="27.16" fill="#F0F9DC"/>
<rect x="967.66" y="946.03" width="31.41" height="27.16" fill="#FEE89C"/>
<rect x="1002.16" y="946.03" width="31.41" height="27.16" fill="#D73027"/>
<rect x="1036.67" y="946.03" width="31.41" height="27.16" fill="#FEE090"/>
<rect x="1071.17" y="946.03" width="31.41" height="27.16" fill="#FEE496"/>
<rect x="1105.68" y="946.03" width="31.41" height="27.16" fill="#FEE090"/>
<rect x="1140.19" y="946.03" width="31.41" height="27.16" fill="#FEE89C"/>
<rect x="1174.69" y="946.03" width="31.41" height="27.16" fill="#FEE496"/>
<rect x="1209.19" y="946.03" width="31.41" height="27.16" fill="#FDFEC3"/>
<rect x="1243.70" y="946.03" width="31.41" height="27.16" fill="#F3FAD4"/>
<rect x="1278.20" y="946.03" width="31.41" height="27.16" fill="#F7FCCD"/>
<rect x="1312.71" y="946.03" width="31.41" height="27.16" fill="#FEECA2"/>
<rect x="1347.22" y="946.03" width="31.41" height="27.16" fill="#E0F3F8"/>
<rect x="1381.72" y="946.03" width="31.41" height="27.16" fill="#ECF8E3"/>
<rect x="1416.23" y="946.03" width="31.41" height="27.16" fill="#FFFBB9"/>
<rect x="1450.73" y="946.03" width="31.41" height="27.16" fill="#F7FCCD"/>
<rect x="1485.24" y="946.03" width="31.41" height="27.16" fill="#E8F6EA"/>
<rect x="1519.74" y="946.03" width="31.41" height="27.16" fill="#CCE6F1"/>
<rect x="1554.25" y="946.03" width="31.41" height="27.16" fill="#A5CCE2"/>
<rect x="208.55" y="976.29" width="31.41" height="27.16" fill="#7EACD1"/>
<rect x="243.06" y="976.29" width="31.41" height="27.16" fill="#6B9AC8"/>
<rect x="277.56" y="976.29" width="31.41" height="27.16" fill="#A5CCE2"/>
<rect x="312.06" y="976.29" width="31.41" height="27.16" fill="#7EACD1"/>
<rect x="346.57" y="976.29" width="31.41" height="27.16" fill="#5888BE"/>
<rect x="381.07" y="976.29" width="31.41" height="27.16" fill="#5888BE"/>
<rect x="415.58" y="976.29" width="31.41" height="27.16" fill="#5888BE"/>
<rect x="450.09" y="976.29" width="31.41" height="27.16" fill="#6B9AC8"/>
<rect x="484.59" y="976.29" width="31.41" height="27.16" fill="#E0F3F8"/>
<rect x="519.10" y="976.29" width="31.41" height="27.16" fill="#A5CCE2"/>
<rect x="553.60" y="976.29" width="31.41" height="27.16" fill="#6B9AC8"/>
<rect x="588.11" y="976.29" width="31.41" height="27.16" fill="#6B9AC8"/>
<rect x="622.61" y="976.29" width="31.41" height="27.16" fill="#6B9AC8"/>
<rect x="657.12" y="976.29" width="31.41" height="27.16" fill="#91BFDB"/>
<rect x="691.62" y="976.29" width="31.41" height="27.16" fill="#B8D9EA"/>
<rect x="726.12" y="976.29" width="31.41" height="27.16" fill="#A5CCE2"/>
<rect x="760.63" y="976.29" width="31.41" height="27.16" fill="#B8D9EA"/>
<rect x="795.13" y="976.29" width="31.41" height="27.16" fill="#E0F3F8"/>
<rect x="829.64" y="976.29" width="31.41" height="27.16" fill="#B8D9EA"/>
<rect x="864.14" y="976.29" width="31.41" height="27.16" fill="#E8F6EA"/>
<rect x="898.65" y="976.29" width="31.41" height="27.16" fill="#E4F4F1"/>
<rect x="933.15" y="976.29" width="31.41" height="27.16" fill="#F7FCCD"/>
<rect x="967.66" y="976.29" width="31.41" height="27.16" fill="#FFF3AD"/>
<rect x="1002.16" y="976.29" width="31.41" height="27.16" fill="#FEE090"/>
<rect x="1036.67" y="976.29" width="31.41" height="27.16" fill="#D73027"/>
<rect x="1071.17" y="976.29" width="31.41" height="27.16" fill="#FEECA2"/>
<rect x="1105.68" y="976.29" width="31.41" height="27.16" fill="#FEECA2"/>
<rect x="1140.19" y="976.29" width="31.41" height="27.16" fill="#FFFBB9"/>
<rect x="1174.69" y="976.29" width="31.41" height="27.16" fill="#FEF0A8"/>
<rect x="1209.19" y="976.29" width="31.41" height="27.16" fill="#F3FAD4"/>
<rect x="1243.70" y="976.29" width="31.41" height="27.16" fill="#F0F9DC"/>
<rect x="1278.20" y="976.29" width="31.41" height="27.16" fill="#F3FAD4"/>
<rect x="1312.71" y="976.29" width="31.41" height="27.16" fill="#FFFBB9"/>
<rect x="1347.22" y="976.29" width="31.41" height="27.16" fill="#F0F9DC"/>
<rect x="1381.72" y="976.29" width="31.41" height="27.16" fill="#ECF8E3"/>
<rect x="1416.23" y="976.29" width="31.41" height="27.16" fill="#FFFFBF"/>
<rect x="1450.73" y="976.29" width="31.41" height="27.16" fill="#F3FAD4"/>
<rect x="1485.24" y="976.29" width="31.41" height="27.16" fill="#ECF8E3"/>
<rect x="1519.74" y="976.29" width="31.41" height="27.16" fill="#E0F3F8"/>
<rect x="1554.25" y="976.29" width="31.41" height="27.16" fill="#C2E0ED"/>
<rect x="208.55" y="1006.55" width="31.41" height="27.16" fill="#6B9AC8"/>
<rect x="243.06" y="1006.55" width="31.41" height="27.16" fill="#5D8CC0"/>
<rect x="277.56" y="1006.55" width="31.41" height="27.16" fill="#9BC6DF"/>
<rect x="312.06" y="1006.55" width="31.41" height="27.16" fill="#6B9AC8"/>
<rect x="346.57" y="1006.55" width="31.41" height="27.16" fill="#5D8CC0"/>
<rect x="381.07" y="1006.55" width="31.41" height="27.16" fill="#5D8CC0"/>
<rect x="415.58" y="1006.55" width="31.41" height="27.16" fill="#5888BE"/>
<rect x="450.09" y="1006.55" width="31.41" height="27.16" fill="#5D8CC0"/>
<rect x="484.59" y="1006.55" width="31.41" height="27.16" fill="#D6ECF4"/>
<rect x="519.10" y="1006.55" width="31.41" height="27.16" fill="#A5CCE2"/>
<rect x="553.60" y="1006.55" width="31.41" height="27.16" fill="#6B9AC8"/>
<rect x="588.11" y="1006.55" width="31.41" height="27.16" fill="#6B9AC8"/>
<rect x="622.61" y="1006.55" width="31.41" height="27.16" fill="#6B9AC8"/>
<rect x="657.12" y="1006.55" width="31.41" height="27.16" fill="#91BFDB"/>
<rect x="691.62" y="1006.55" width="31.41" height="27.16" fill="#A5CCE2"/>
<rect x="726.12" y="1006.55" width="31.41" height="27.16" fill="#A5CCE2"/>
<rect x="760.63" y="1006.55" width="31.41" height="27.16" fill="#A5CCE2"/>
<rect x="795.13" y="1006.55" width="31.41" height="27.16" fill="#CCE6F1"/>
<rect x="829.64" y="1006.55" width="31.41" height="27.16" fill="#B8D9EA"/>
<rect x="864.14" y="1006.55" width="31.41" height="27.16" fill="#CCE6F1"/>
<rect x="898.65" y="1006.55" width="31.41" height="27.16" fill="#E0F3F8"/>
<rect x="933.15" y="1006.55" width="31.41" height="27.16" fill="#E0F3F8"/>
<rect x="967.66" y="1006.55" width="31.41" height="27.16" fill="#FEF0A8"/>
<rect x="1002.16" y="1006.55" width="31.41" height="27.16" fill="#FEE496"/>
<rect x="1036.67" y="1006.55" width="31.41" height="27.16" fill="#FEECA2"/>
<rect x="1071.17" y="1006.55" width="31.41" height="27.16" fill="#D73027"/>
<rect x="1105.68" y="1006.55" width="31.41" height="27.16" fill="#FEE496"/>
<rect x="1140.19" y="1006.55" width="31.41" height="27.16" fill="#FEE496"/>
<rect x="1174.69" y="1006.55" width="31.41" height="27.16" fill="#FEF0A8"/>
<rect x="1209.19" y="1006.55" width="31.41" height="27.16" fill="#ECF8E3"/>
<rect x="1243.70" y="1006.55" width="31.41" height="27.16" fill="#ECF8E3"/>
<rect x="1278.20" y="1006.55" width="31.41" height="27.16" fill="#F0F9DC"/>
<rect x="1312.71" y="1006.55" width="31.41" height="27.16" fill="#FFF7B3"/>
<rect x="1347.22" y="1006.55" width="31.41" height="27.16" fill="#E0F3F8"/>
<rect x="1381.72" y="1006.55" width="31.41" height="27.16" fill="#ECF8E3"/>
<rect x="1416.23" y="1006.55" width="31.41" height="27.16" fill="#F3FAD4"/>
<rect x="1450.73" y="1006.55" width="31.41" height="27.16" fill="#F0F9DC"/>
<rect x="1485.24" y="1006.55" width="31.41" height="27.16" fill="#D6ECF4"/>
<rect x="1519.74" y="1006.55" width="31.41" height="27.16" fill="#B8D9EA"/>
<rect x="1554.25" y="1006.55" width="31.41" height="27.16" fill="#91BFDB"/>
<rect x="208.55" y="1036.81" width="31.41" height="27.16" fill="#709FCA"/>
<rect x="243.06" y="1036.81" width="31.41" height="27.16" fill="#6291C3"/>
<rect x="277.56" y="1036.81" width="31.41" height="27.16" fill="#9BC6DF"/>
<rect x="312.06" y="1036.81" width="31.41" height="27.16" fill="#709FCA"/>
<rect x="346.57" y="1036.81" width="31.41" height="27.16" fill="#5D8CC0"/>
<rect x="381.07" y="1036.81" width="31.41" height="27.16" fill="#6291C3"/>
<rect x="415.58" y="1036.81" width="31.41" height="27.16" fill="#5888BE"/>
<rect x="450.09" y="1036.81" width="31.41" height="27.16" fill="#6B9AC8"/>
<rect x="484.59" y="1036.81" width="31.41" height="27.16" fill="#CCE6F1"/>
<rect x="519.10" y="1036.81" width="31.41" height="27.16" fill="#A5CCE2"/>
<rect x="553.60" y="1036.81" width="31.41" height="27.16" fill="#6B9AC8"/>
<rect x="588.11" y="1036.81" width="31.41" height="27.16" fill="#709FCA"/>
<rect x="622.61" y="1036.81" width="31.41" height="27.16" fill="#6B9AC8"/>
<rect x="657.12" y="1036.81" width="31.41" height="27.16" fill="#7EACD1"/>
<rect x="691.62" y="1036.81" width="31.41" height="27.16" fill="#C2E0ED"/>
<rect x="726.12" y="1036.81" width="31.41" height="27.16" fill="#A5CCE2"/>
<rect x="760.63" y="1036.81" width="31.41" height="27.16" fill="#B8D9EA"/>
<rect x="795.13" y="1036.81" width="31.41" height="27.16" fill="#CCE6F1"/>
<rect x="829.64" y="1036.81" width="31.41" height="27.16" fill="#C2E0ED"/>
<rect x="864.14" y="1036.81" width="31.41" height="27.16" fill="#E8F6EA"/>
<rect x="898.65" y="1036.81" width="31.41" height="27.16" fill="#E0F3F8"/>
<rect x="933.15" y="1036.81" width="31.41" height="27.16" fill="#E4F4F1"/>
<rect x="967.66" y="1036.81" width="31.41" height="27.16" fill="#FEE89C"/>
<rect x="1002.16" y="1036.81" width="31.41" height="27.16" fill="#FEE090"/>
<rect x="1036.67" y="1036.81" width="31.41" height="27.16" fill="#FEECA2"/>
<rect x="1071.17" y="1036.81" width="31.41" height="27.16" fill="#FEE496"/>
<rect x="1105.68" y="1036.81" width="31.41" height="27.16" fill="#D73027"/>
<rect x="1140.19" y="1036.81" width="31.41" height="27.16" fill="#FFFBB9"/>
<rect x="1174.69" y="1036.81" width="31.41" height="27.16" fill="#FFF7B3"/>
<rect x="1209.19" y="1036.81" width="31.41" height="27.16" fill="#FBFEC6"/>
<rect x="1243.70" y="1036.81" width="31.41" height="27.16" fill="#F9FDCA"/>
<rect x="1278.20" y="1036.81" width="31.41" height="27.16" fill="#F7FCCD"/>
<rect x="1312.71" y="1036.81" width="31.41" height="27.16" fill="#FFF7B3"/>
<rect x="1347.22" y="1036.81" width="31.41" height="27.16" fill="#E8F6EA"/>
<rect x="1381.72" y="1036.81" width="31.41" height="27.16" fill="#F3FAD4"/>
<rect x="1416.23" y="1036.81" width="31.41" height="27.16" fill="#FBFEC6"/>
<rect x="1450.73" y="1036.81" width="31.41" height="27.16" fill="#E8F6EA"/>
<rect x="1485.24" y="1036.81" width="31.41" height="27.16" fill="#E4F4F1"/>
<rect x="1519.74" y="1036.81" width="31.41" height="27.16" fill="#B8D9EA"/>
<rect x="1554.25" y="1036.81" width="31.41" height="27.16" fill="#9BC6DF"/>
<rect x="208.55" y="1067.07" width="31.41" height="27.16" fill="#6B9AC8"/>
<rect x="243.06" y="1067.07" width="31.41" height="27.16" fill="#5D8CC0"/>
<rect x="277.56" y="1067.07" width="31.41" height="27.16" fill="#A5CCE2"/>
<rect x="312.06" y="1067.07" width="31.41" height="27.16" fill="#6B9AC8"/>
<rect x="346.57" y="1067.07" width="31.41" height="27.16" fill="#6B9AC8"/>
<rect x="381.07" y="1067.07" width="31.41" height="27.16" fill="#6B9AC8"/>
<rect x="415.58" y="1067.07" width="31.41" height="27.16" fill="#5888BE"/>
<rect x="450.09" y="1067.07" width="31.41" height="27.16" fill="#5888BE"/>
<rect x="484.59" y="1067.07" width="31.41" height="27.16" fill="#E2F4F4"/>
<rect x="519.10" y="1067.07" width="31.41" height="27.16" fill="#A5CCE2"/>
<rect x="553.60" y="1067.07" width="31.41" height="27.16" fill="#6B9AC8"/>
<rect x="588.11" y="1067.07" width="31.41" height="27.16" fill="#6B9AC8"/>
<rect x="622.61" y="1067.07" width="31.41" height="27.16" fill="#6B9AC8"/>
<rect x="657.12" y="1067.07" width="31.41" height="27.16" fill="#A5CCE2"/>
<rect x="691.62" y="1067.07" width="31.41" height="27.16" fill="#A5CCE2"/>
<rect x="726.12" y="1067.07" width="31.41" height="27.16" fill="#91BFDB"/>
<rect x="760.63" y="1067.07" width="31.41" height="27.16" fill="#91BFDB"/>
<rect x="795.13" y="1067.07" width="31.41" height="27.16" fill="#A5CCE2"/>
<rect x="829.64" y="1067.07" width="31.41" height="27.16" fill="#A5CCE2"/>
<rect x="864.14" y="1067.07" width="31.41" height="27.16" fill="#B8D9EA"/>
<rect x="898.65" y="1067.07" width="31.41" height="27.16" fill="#E4F4F1"/>
<rect x="933.15" y="1067.07" width="31.41" height="27.16" fill="#E4F4F1"/>
<rect x="967.66" y="1067.07" width="31.41" height="27.16" fill="#FFFBB9"/>
<rect x="1002.16" y="1067.07" width="31.41" height="27.16" fill="#FEE89C"/>
<rect x="1036.67" y="1067.07" width="31.41" height="27.16" fill="#FFFBB9"/>
<rect x="1071.17" y="1067.07" width="31.41" height="27.16" fill="#FEE496"/>
<rect x="1105.68" y="1067.07" width="31.41" height="27.16" fill="#FFFBB9"/>
<rect x="1140.19" y="1067.07" width="31.41" height="27.16" fill="#D73027"/>
<rect x="1174.69" y="1067.07" width="31.41" height="27.16" fill="#FFFBB9"/>
<rect x="1209.19" y="1067.07" width="31.41" height="27.16" fill="#ECF8E3"/>
<rect x="1243.70" y="1067.07" width="31.41" height="27.16" fill="#ECF8E3"/>
<rect x="1278.20" y="1067.07" width="31.41" height="27.16" fill="#E8F6EA"/>
<rect x="1312.71" y="1067.07" width="31.41" height="27.16" fill="#F3FAD4"/>
<rect x="1347.22" y="1067.07" width="31.41" height="27.16" fill="#AFD2E6"/>
<rect x="1381.72" y="1067.07" width="31.41" height="27.16" fill="#C2E0ED"/>
<rect x="1416.23" y="1067.07" width="31.41" height="27.16" fill="#E0F3F8"/>
<rect x="1450.73" y="1067.07" width="31.41" height="27.16" fill="#F0F9DC"/>
<rect x="1485.24" y="1067.07" width="31.41" height="27.16" fill="#CCE6F1"/>
<rect x="1519.74" y="1067.07" width="31.41" height="27.16" fill="#9BC6DF"/>
<rect x="1554.25" y="1067.07" width="31.41" height="27.16" fill="#7EACD1"/>
<rect x="208.55" y="1097.33" width="31.41" height="27.16" fill="#6B9AC8"/>
<rect x="243.06" y="1097.33" width="31.41" height="27.16" fill="#5888BE"/>
<rect x="277.56" y="1097.33" width="31.41" height="27.16" fill="#96C2DD"/>
<rect x="312.06" y="1097.33" width="31.41" height="27.16" fill="#6B9AC8"/>
<rect x="346.57" y="1097.33" width="31.41" height="27.16" fill="#4A7AB6"/>
<rect x="381.07" y="1097.33" width="31.41" height="27.16" fill="#5D8CC0"/>
<rect x="415.58" y="1097.33" width="31.41" height="27.16" fill="#5888BE"/>
<rect x="450.09" y="1097.33" width="31.41" height="27.16" fill="#6B9AC8"/>
<rect x="484.59" y="1097.33" width="31.41" height="27.16" fill="#CCE6F1"/>
<rect x="519.10" y="1097.33" width="31.41" height="27.16" fill="#A5CCE2"/>
<rect x="553.60" y="1097.33" width="31.41" height="27.16" fill="#6B9AC8"/>
<rect x="588.11" y="1097.33" width="31.41" height="27.16" fill="#6B9AC8"/>
<rect x="622.61" y="1097.33" width="31.41" height="27.16" fill="#5D8CC0"/>
<rect x="657.12" y="1097.33" width="31.41" height="27.16" fill="#A5CCE2"/>
<rect x="691.62" y="1097.33" width="31.41" height="27.16" fill="#A5CCE2"/>
<rect x="726.12" y="1097.33" width="31.41" height="27.16" fill="#B8D9EA"/>
<rect x="760.63" y="1097.33" width="31.41" height="27.16" fill="#A5CCE2"/>
<rect x="795.13" y="1097.33" width="31.41" height="27.16" fill="#E0F3F8"/>
<rect x="829.64" y="1097.33" width="31.41" height="27.16" fill="#B8D9EA"/>
<rect x="864.14" y="1097.33" width="31.41" height="27.16" fill="#CCE6F1"/>
<rect x="898.65" y="1097.33" width="31.41" height="27.16" fill="#D6ECF4"/>
<rect x="933.15" y="1097.33" width="31.41" height="27.16" fill="#E8F6EA"/>
<rect x="967.66" y="1097.33" width="31.41" height="27.16" fill="#FFFBB9"/>
<rect x="1002.16" y="1097.33" width="31.41" height="27.16" fill="#FEE496"/>
<rect x="1036.67" y="1097.33" width="31.41" height="27.16" fill="#FEF0A8"/>
<rect x="1071.17" y="1097.33" width="31.41" height="27.16" fill="#FEF0A8"/>
<rect x="1105.68" y="1097.33" width="31.41" height="27.16" fill="#FFF7B3"/>
<rect x="1140.19" y="1097.33" width="31.41" height="27.16" fill="#FFFBB9"/>
<rect x="1174.69" y="1097.33" width="31.41" height="27.16" fill="#D73027"/>
<rect x="1209.19" y="1097.33" width="31.41" height="27.16" fill="#F3FAD4"/>
<rect x="1243.70" y="1097.33" width="31.41" height="27.16" fill="#F0F9DC"/>
<rect x="1278.20" y="1097.33" width="31.41" height="27.16" fill="#F9FDCA"/>
<rect x="1312.71" y="1097.33" width="31.41" height="27.16" fill="#FFFBB9"/>
<rect x="1347.22" y="1097.33" width="31.41" height="27.16" fill="#E0F3F8"/>
<rect x="1381.72" y="1097.33" width="31.41" height="27.16" fill="#E0F3F8"/>
<rect x="1416.23" y="1097.33" width="31.41" height="27.16" fill="#F3FAD4"/>
<rect x="1450.73" y="1097.33" width="31.41" height="27.16" fill="#F0F9DC"/>
<rect x="1485.24" y="1097.33" width="31.41" height="27.16" fill="#CCE6F1"/>
<rect x="1519.74" y="1097.33" width="31.41" height="27.16" fill="#A5CCE2"/>
<rect x="1554.25" y="1097.33" width="31.41" height="27.16" fill="#7EACD1"/>
<rect x="208.55" y="1127.59" width="31.41" height="27.16" fill="#A5CCE2"/>
<rect x="243.06" y="1127.59" width="31.41" height="27.16" fill="#83B1D4"/>
<rect x="277.56" y="1127.59" width="31.41" height="27.16" fill="#CCE6F1"/>
<rect x="312.06" y="1127.59" width="31.41" height="27.16" fill="#91BFDB"/>
<rect x="346.57" y="1127.59" width="31.41" height="27.16" fill="#5888BE"/>
<rect x="381.07" y="1127.59" width="31.41" height="27.16" fill="#5888BE"/>
<rect x="415.58" y="1127.59" width="31.41" height="27.16" fill="#5888BE"/>
<rect x="450.09" y="1127.59" width="31.41" height="27.16" fill="#5D8CC0"/>
<rect x="484.59" y="1127.59" width="31.41" height="27.16" fill="#B8D9EA"/>
<rect x="519.10" y="1127.59" width="31.41" height="27.16" fill="#B8D9EA"/>
<rect x="553.60" y="1127.59" width="31.41" height="27.16" fill="#6B9AC8"/>
<rect x="588.11" y="1127.59" width="31.41" height="27.16" fill="#6B9AC8"/>
<rect x="622.61" y="1127.59" width="31.41" height="27.16" fill="#6B9AC8"/>
<rect x="657.12" y="1127.59" width="31.41" height="27.16" fill="#A5CCE2"/>
<rect x="691.62" y="1127.59" width="31.41" height="27.16" fill="#7EACD1"/>
<rect x="726.12" y="1127.59" width="31.41" height="27.16" fill="#4A7AB6"/>
<rect x="760.63" y="1127.59" width="31.41" height="27.16" fill="#6B9AC8"/>
<rect x="795.13" y="1127.59" width="31.41" height="27.16" fill="#6B9AC8"/>
<rect x="829.64" y="1127.59" width="31.41" height="27.16" fill="#A5CCE2"/>
<rect x="864.14" y="1127.59" width="31.41" height="27.16" fill="#91BFDB"/>
<rect x="898.65" y="1127.59" width="31.41" height="27.16" fill="#A5CCE2"/>
<rect x="933.15" y="1127.59" width="31.41" height="27.16" fill="#BDDCEB"/>
<rect x="967.66" y="1127.59" width="31.41" height="27.16" fill="#F3FAD4"/>
<rect x="1002.16" y="1127.59" width="31.41" height="27.16" fill="#FDFEC3"/>
<rect x="1036.67" y="1127.59" width="31.41" height="27.16" fill="#F3FAD4"/>
<rect x="1071.17" y="1127.59" width="31.41" height="27.16" fill="#ECF8E3"/>
<rect x="1105.68" y="1127.59" width="31.41" height="27.16" fill="#FBFEC6"/>
<rect x="1140.19" y="1127.59" width="31.41" height="27.16" fill="#ECF8E3"/>
<rect x="1174.69" y="1127.59" width="31.41" height="27.16" fill="#F3FAD4"/>
<rect x="1209.19" y="1127.59" width="31.41" height="27.16" fill="#D73027"/>
<rect x="1243.70" y="1127.59" width="31.41" height="27.16" fill="#ECF8E3"/>
<rect x="1278.20" y="1127.59" width="31.41" height="27.16" fill="#F3FAD4"/>
<rect x="1312.71" y="1127.59" width="31.41" height="27.16" fill="#F3FAD4"/>
<rect x="1347.22" y="1127.59" width="31.41" height="27.16" fill="#C2E0ED"/>
<rect x="1381.72" y="1127.59" width="31.41" height="27.16" fill="#E4F4F1"/>
<rect x="1416.23" y="1127.59" width="31.41" height="27.16" fill="#F0F9DC"/>
<rect x="1450.73" y="1127.59" width="31.41" height="27.16" fill="#E0F3F8"/>
<rect x="1485.24" y="1127.59" width="31.41" height="27.16" fill="#D6ECF4"/>
<rect x="1519.74" y="1127.59" width="31.41" height="27.16" fill="#CCE6F1"/>
<rect x="1554.25" y="1127.59" width="31.41" height="27.16" fill="#AFD2E6"/>
<rect x="208.55" y="1157.85" width="31.41" height="27.16" fill="#6B9AC8"/>
<rect x="243.06" y="1157.85" width="31.41" height="27.16" fill="#5D8CC0"/>
<rect x="277.56" y="1157.85" width="31.41" height="27.16" fill="#91BFDB"/>
<rect x="312.06" y="1157.85" width="31.41" height="27.16" fill="#6B9AC8"/>
<rect x="346.57" y="1157.85" width="31.41" height="27.16" fill="#96C2DD"/>
<rect x="381.07" y="1157.85" width="31.41" height="27.16" fill="#A5CCE2"/>
<rect x="415.58" y="1157.85" width="31.41" height="27.16" fill="#79A8CF"/>
<rect x="450.09" y="1157.85" width="31.41" height="27.16" fill="#79A8CF"/>
<rect x="484.59" y="1157.85" width="31.41" height="27.16" fill="#F1FAD8"/>
<rect x="519.10" y="1157.85" width="31.41" height="27.16" fill="#A5CCE2"/>
<rect x="553.60" y="1157.85" width="31.41" height="27.16" fill="#79A8CF"/>
<rect x="588.11" y="1157.85" width="31.41" height="27.16" fill="#8CBAD9"/>
<rect x="622.61" y="1157.85" width="31.41" height="27.16" fill="#709FCA"/>
<rect x="657.12" y="1157.85" width="31.41" height="27.16" fill="#8CBAD9"/>
<rect x="691.62" y="1157.85" width="31.41" height="27.16" fill="#B4D6E8"/>
<rect x="726.12" y="1157.85" width="31.41" height="27.16" fill="#6695C5"/>
<rect x="760.63" y="1157.85" width="31.41" height="27.16" fill="#7EACD1"/>
<rect x="795.13" y="1157.85" width="31.41" height="27.16" fill="#7EACD1"/>
<rect x="829.64" y="1157.85" width="31.41" height="27.16" fill="#F0F9DC"/>
<rect x="864.14" y="1157.85" width="31.41" height="27.16" fill="#A5CCE2"/>
<rect x="898.65" y="1157.85" width="31.41" height="27.16" fill="#91BFDB"/>
<rect x="933.15" y="1157.85" width="31.41" height="27.16" fill="#A5CCE2"/>
<rect x="967.66" y="1157.85" width="31.41" height="27.16" fill="#F7FCCD"/>
<rect x="1002.16" y="1157.85" width="31.41" height="27.16" fill="#F3FAD4"/>
<rect x="1036.67" y="1157.85" width="31.41" height="27.16" fill="#F0F9DC"/>
<rect x="1071.17" y="1157.85" width="31.41" height="27.16" fill="#ECF8E3"/>
<rect x="1105.68" y="1157.85" width="31.41" height="27.16" fill="#F9FDCA"/>
<rect x="1140.19" y="1157.85" width="31.41" height="27.16" fill="#ECF8E3"/>
<rect x="1174.69" y="1157.85" width="31.41" height="27.16" fill="#F0F9DC"/>
<rect x="1209.19" y="1157.85" width="31.41" height="27.16" fill="#ECF8E3"/>
<rect x="1243.70" y="1157.85" width="31.41" height="27.16" fill="#D73027"/>
<rect x="1278.20" y="1157.85" width="31.41" height="27.16" fill="#FFF7B3"/>
<rect x="1312.71" y="1157.85" width="31.41" height="27.16" fill="#FFFFBF"/>
<rect x="1347.22" y="1157.85" width="31.41" height="27.16" fill="#91BFDB"/>
<rect x="1381.72" y="1157.85" width="31.41" height="27.16" fill="#CCE6F1"/>
<rect x="1416.23" y="1157.85" width="31.41" height="27.16" fill="#C2E0ED"/>
<rect x="1450.73" y="1157.85" width="31.41" height="27.16" fill="#AFD2E6"/>
<rect x="1485.24" y="1157.85" width="31.41" height="27.16" fill="#F0F9DC"/>
<rect x="1519.74" y="1157.85" width="31.41" height="27.16" fill="#A5CCE2"/>
<rect x="1554.25" y="1157.85" width="31.41" height="27.16" fill="#A5CCE2"/>
<rect x="208.55" y="1188.11" width="31.41" height="27.16" fill="#91BFDB"/>
<rect x="243.06" y="1188.11" width="31.41" height="27.16" fill="#7EACD1"/>
<rect x="277.56" y="1188.11" width="31.41" height="27.16" fill="#B8D9EA"/>
<rect x="312.06" y="1188.11" width="31.41" height="27.16" fill="#91BFDB"/>
<rect x="346.57" y="1188.11" width="31.41" height="27.16" fill="#5D8CC0"/>
<rect x="381.07" y="1188.11" width="31.41" height="27.16" fill="#709FCA"/>
<rect x="415.58" y="1188.11" width="31.41" height="27.16" fill="#5D8CC0"/>
<rect x="450.09" y="1188.11" width="31.41" height="27.16" fill="#6B9AC8"/>
<rect x="484.59" y="1188.11" width="31.41" height="27.16" fill="#E8F6EA"/>
<rect x="519.10" y="1188.11" width="31.41" height="27.16" fill="#A0C9E0"/>
<rect x="553.60" y="1188.11" width="31.41" height="27.16" fill="#709FCA"/>
<rect x="588.11" y="1188.11" width="31.41" height="27.16" fill="#6B9AC8"/>
<rect x="622.61" y="1188.11" width="31.41" height="27.16" fill="#6B9AC8"/>
<rect x="657.12" y="1188.11" width="31.41" height="27.16" fill="#7EACD1"/>
<rect x="691.62" y="1188.11" width="31.41" height="27.16" fill="#A0C9E0"/>
<rect x="726.12" y="1188.11" width="31.41" height="27.16" fill="#A5CCE2"/>
<rect x="760.63" y="1188.11" width="31.41" height="27.16" fill="#A0C9E0"/>
<rect x="795.13" y="1188.11" width="31.41" height="27.16" fill="#A0C9E0"/>
<rect x="829.64" y="1188.11" width="31.41" height="27.16" fill="#E8F6EA"/>
<rect x="864.14" y="1188.11" width="31.41" height="27.16" fill="#DBF0F6"/>
<rect x="898.65" y="1188.11" width="31.41" height="27.16" fill="#A5CCE2"/>
<rect x="933.15" y="1188.11" width="31.41" height="27.16" fill="#BDDCEB"/>
<rect x="967.66" y="1188.11" width="31.41" height="27.16" fill="#F7FCCD"/>
<rect x="1002.16" y="1188.11" width="31.41" height="27.16" fill="#F7FCCD"/>
<rect x="1036.67" y="1188.11" width="31.41" height="27.16" fill="#F3FAD4"/>
<rect x="1071.17" y="1188.11" width="31.41" height="27.16" fill="#F0F9DC"/>
<rect x="1105.68" y="1188.11" width="31.41" height="27.16" fill="#F7FCCD"/>
<rect x="1140.19" y="1188.11" width="31.41" height="27.16" fill="#E8F6EA"/>
<rect x="1174.69" y="1188.11" width="31.41" height="27.16" fill="#F9FDCA"/>
<rect x="1209.19" y="1188.11" width="31.41" height="27.16" fill="#F3FAD4"/>
<rect x="1243.70" y="1188.11" width="31.41" height="27.16" fill="#FFF7B3"/>
<rect x="1278.20" y="1188.11" width="31.41" height="27.16" fill="#D73027"/>
<rect x="1312.71" y="1188.11" width="31.41" height="27.16" fill="#FFFBB9"/>
<rect x="1347.22" y="1188.11" width="31.41" height="27.16" fill="#B8D9EA"/>
<rect x="1381.72" y="1188.11" width="31.41" height="27.16" fill="#E4F4F1"/>
<rect x="1416.23" y="1188.11" width="31.41" height="27.16" fill="#E0F3F8"/>
<rect x="1450.73" y="1188.11" width="31.41" height="27.16" fill="#D6ECF4"/>
<rect x="1485.24" y="1188.11" width="31.41" height="27.16" fill="#E8F6EA"/>
<rect x="1519.74" y="1188.11" width="31.41" height="27.16" fill="#CCE6F1"/>
<rect x="1554.25" y="1188.11" width="31.41" height="27.16" fill="#A5CCE2"/>
<rect x="208.55" y="1218.37" width="31.41" height="27.16" fill="#6B9AC8"/>
<rect x="243.06" y="1218.37" width="31.41" height="27.16" fill="#5D8CC0"/>
<rect x="277.56" y="1218.37" width="31.41" height="27.16" fill="#96C2DD"/>
<rect x="312.06" y="1218.37" width="31.41" height="27.16" fill="#6B9AC8"/>
<rect x="346.57" y="1218.37" width="31.41" height="27.16" fill="#6B9AC8"/>
<rect x="381.07" y="1218.37" width="31.41" height="27.16" fill="#6291C3"/>
<rect x="415.58" y="1218.37" width="31.41" height="27.16" fill="#5D8CC0"/>
<rect x="450.09" y="1218.37" width="31.41" height="27.16" fill="#6291C3"/>
<rect x="484.59" y="1218.37" width="31.41" height="27.16" fill="#E0F3F8"/>
<rect x="519.10" y="1218.37" width="31.41" height="27.16" fill="#A0C9E0"/>
<rect x="553.60" y="1218.37" width="31.41" height="27.16" fill="#709FCA"/>
<rect x="588.11" y="1218.37" width="31.41" height="27.16" fill="#709FCA"/>
<rect x="622.61" y="1218.37" width="31.41" height="27.16" fill="#6B9AC8"/>
<rect x="657.12" y="1218.37" width="31.41" height="27.16" fill="#7EACD1"/>
<rect x="691.62" y="1218.37" width="31.41" height="27.16" fill="#91BFDB"/>
<rect x="726.12" y="1218.37" width="31.41" height="27.16" fill="#7EACD1"/>
<rect x="760.63" y="1218.37" width="31.41" height="27.16" fill="#7EACD1"/>
<rect x="795.13" y="1218.37" width="31.41" height="27.16" fill="#91BFDB"/>
<rect x="829.64" y="1218.37" width="31.41" height="27.16" fill="#B4D6E8"/>
<rect x="864.14" y="1218.37" width="31.41" height="27.16" fill="#CCE6F1"/>
<rect x="898.65" y="1218.37" width="31.41" height="27.16" fill="#A5CCE2"/>
<rect x="933.15" y="1218.37" width="31.41" height="27.16" fill="#C2E0ED"/>
<rect x="967.66" y="1218.37" width="31.41" height="27.16" fill="#FFFBB9"/>
<rect x="1002.16" y="1218.37" width="31.41" height="27.16" fill="#FEECA2"/>
<rect x="1036.67" y="1218.37" width="31.41" height="27.16" fill="#FFFBB9"/>
<rect x="1071.17" y="1218.37" width="31.41" height="27.16" fill="#FFF7B3"/>
<rect x="1105.68" y="1218.37" width="31.41" height="27.16" fill="#FFF7B3"/>
<rect x="1140.19" y="1218.37" width="31.41" height="27.16" fill="#F3FAD4"/>
<rect x="1174.69" y="1218.37" width="31.41" height="27.16" fill="#FFFBB9"/>
<rect x="1209.19" y="1218.37" width="31.41" height="27.16" fill="#F3FAD4"/>
<rect x="1243.70" y="1218.37" width="31.41" height="27.16" fill="#FFFFBF"/>
<rect x="1278.20" y="1218.37" width="31.41" height="27.16" fill="#FFFBB9"/>
<rect x="1312.71" y="1218.37" width="31.41" height="27.16" fill="#D73027"/>
<rect x="1347.22" y="1218.37" width="31.41" height="27.16" fill="#CCE6F1"/>
<rect x="1381.72" y="1218.37" width="31.41" height="27.16" fill="#F3FAD4"/>
<rect x="1416.23" y="1218.37" width="31.41" height="27.16" fill="#E8F6EA"/>
<rect x="1450.73" y="1218.37" width="31.41" height="27.16" fill="#E0F3F8"/>
<rect x="1485.24" y="1218.37" width="31.41" height="27.16" fill="#F7FCCD"/>
<rect x="1519.74" y="1218.37" width="31.41" height="27.16" fill="#CCE6F1"/>
<rect x="1554.25" y="1218.37" width="31.41" height="27.16" fill="#B8D9EA"/>
<rect x="208.55" y="1248.63" width="31.41" height="27.16" fill="#6B9AC8"/>
<rect x="243.06" y="1248.63" width="31.41" height="27.16" fill="#6B9AC8"/>
<rect x="277.56" y="1248.63" width="31.41" height="27.16" fill="#6B9AC8"/>
<rect x="312.06" y="1248.63" width="31.41" height="27.16" fill="#7EACD1"/>
<rect x="346.57" y="1248.63" width="31.41" height="27.16" fill="#4575B4"/>
<rect x="381.07" y="1248.63" width="31.41" height="27.16" fill="#4E7EB9"/>
<rect x="415.58" y="1248.63" width="31.41" height="27.16" fill="#79A8CF"/>
<rect x="450.09" y="1248.63" width="31.41" height="27.16" fill="#79A8CF"/>
<rect x="484.59" y="1248.63" width="31.41" height="27.16" fill="#7EACD1"/>
<rect x="519.10" y="1248.63" width="31.41" height="27.16" fill="#B8D9EA"/>
<rect x="553.60" y="1248.63" width="31.41" height="27.16" fill="#6B9AC8"/>
<rect x="588.11" y="1248.63" width="31.41" height="27.16" fill="#6B9AC8"/>
<rect x="622.61" y="1248.63" width="31.41" height="27.16" fill="#6B9AC8"/>
<rect x="657.12" y="1248.63" width="31.41" height="27.16" fill="#6B9AC8"/>
<rect x="691.62" y="1248.63" width="31.41" height="27.16" fill="#B8D9EA"/>
<rect x="726.12" y="1248.63" width="31.41" height="27.16" fill="#E8F6EA"/>
<rect x="760.63" y="1248.63" width="31.41" height="27.16" fill="#E8F6EA"/>
<rect x="795.13" y="1248.63" width="31.41" height="27.16" fill="#F7FCCD"/>
<rect x="829.64" y="1248.63" width="31.41" height="27.16" fill="#F0F9DC"/>
<rect x="864.14" y="1248.63" width="31.41" height="27.16" fill="#F7FCCD"/>
<rect x="898.65" y="1248.63" width="31.41" height="27.16" fill="#FBFEC6"/>
<rect x="933.15" y="1248.63" width="31.41" height="27.16" fill="#FFF7B3"/>
<rect x="967.66" y="1248.63" width="31.41" height="27.16" fill="#CCE6F1"/>
<rect x="1002.16" y="1248.63" width="31.41" height="27.16" fill="#E0F3F8"/>
<rect x="1036.67" y="1248.63" width="31.41" height="27.16" fill="#F0F9DC"/>
<rect x="1071.17" y="1248.63" width="31.41" height="27.16" fill="#E0F3F8"/>
<rect x="1105.68" y="1248.63" width="31.41" height="27.16" fill="#E8F6EA"/>
<rect x="1140.19" y="1248.63" width="31.41" height="27.16" fill="#AFD2E6"/>
<rect x="1174.69" y="1248.63" width="31.41" height="27.16" fill="#E0F3F8"/>
<rect x="1209.19" y="1248.63" width="31.41" height="27.16" fill="#C2E0ED"/>
<rect x="1243.70" y="1248.63" width="31.41" height="27.16" fill="#91BFDB"/>
<rect x="1278.20" y="1248.63" width="31.41" height="27.16" fill="#B8D9EA"/>
<rect x="1312.71" y="1248.63" width="31.41" height="27.16" fill="#CCE6F1"/>
<rect x="1347.22" y="1248.63" width="31.41" height="27.16" fill="#D73027"/>
<rect x="1381.72" y="1248.63" width="31.41" height="27.16" fill="#F0F9DC"/>
<rect x="1416.23" y="1248.63" width="31.41" height="27.16" fill="#FFFBB9"/>
<rect x="1450.73" y="1248.63" width="31.41" height="27.16" fill="#F7FCCD"/>
<rect x="1485.24" y="1248.63" width="31.41" height="27.16" fill="#AFD2E6"/>
<rect x="1519.74" y="1248.63" width="31.41" height="27.16" fill="#ECF8E3"/>
<rect x="1554.25" y="1248.63" width="31.41" height="27.16" fill="#E8F6EA"/>
<rect x="208.55" y="1278.89" width="31.41" height="27.16" fill="#79A8CF"/>
<rect x="243.06" y="1278.89" width="31.41" height="27.16" fill="#7EACD1"/>
<rect x="277.56" y="1278.89" width="31.41" height="27.16" fill="#7EACD1"/>
<rect x="312.06" y="1278.89" width="31.41" height="27.16" fill="#7EACD1"/>
<rect x="346.57" y="1278.89" width="31.41" height="27.16" fill="#5888BE"/>
<rect x="381.07" y="1278.89" width="31.41" height="27.16" fill="#709FCA"/>
<rect x="415.58" y="1278.89" width="31.41" height="27.16" fill="#709FCA"/>
<rect x="450.09" y="1278.89" width="31.41" height="27.16" fill="#709FCA"/>
<rect x="484.59" y="1278.89" width="31.41" height="27.16" fill="#A5CCE2"/>
<rect x="519.10" y="1278.89" width="31.41" height="27.16" fill="#A0C9E0"/>
<rect x="553.60" y="1278.89" width="31.41" height="27.16" fill="#709FCA"/>
<rect x="588.11" y="1278.89" width="31.41" height="27.16" fill="#91BFDB"/>
<rect x="622.61" y="1278.89" width="31.41" height="27.16" fill="#6B9AC8"/>
<rect x="657.12" y="1278.89" width="31.41" height="27.16" fill="#6B9AC8"/>
<rect x="691.62" y="1278.89" width="31.41" height="27.16" fill="#F0F9DC"/>
<rect x="726.12" y="1278.89" width="31.41" height="27.16" fill="#B8D9EA"/>
<rect x="760.63" y="1278.89" width="31.41" height="27.16" fill="#F7FCCD"/>
<rect x="795.13" y="1278.89" width="31.41" height="27.16" fill="#E8F6EA"/>
<rect x="829.64" y="1278.89" width="31.41" height="27.16" fill="#F0F9DC"/>
<rect x="864.14" y="1278.89" width="31.41" height="27.16" fill="#FFFDBC"/>
<rect x="898.65" y="1278.89" width="31.41" height="27.16" fill="#F3FAD4"/>
<rect x="933.15" y="1278.89" width="31.41" height="27.16" fill="#FFFFBF"/>
<rect x="967.66" y="1278.89" width="31.41" height="27.16" fill="#FBFEC6"/>
<rect x="1002.16" y="1278.89" width="31.41" height="27.16" fill="#ECF8E3"/>
<rect x="1036.67" y="1278.89" width="31.41" height="27.16" fill="#ECF8E3"/>
<rect x="1071.17" y="1278.89" width="31.41" height="27.16" fill="#ECF8E3"/>
<rect x="1105.68" y="1278.89" width="31.41" height="27.16" fill="#F3FAD4"/>
<rect x="1140.19" y="1278.89" width="31.41" height="27.16" fill="#C2E0ED"/>
<rect x="1174.69" y="1278.89" width="31.41" height="27.16" fill="#E0F3F8"/>
<rect x="1209.19" y="1278.89" width="31.41" height="27.16" fill="#E4F4F1"/>
<rect x="1243.70" y="1278.89" width="31.41" height="27.16" fill="#CCE6F1"/>
<rect x="1278.20" y="1278.89" width="31.41" height="27.16" fill="#E4F4F1"/>
<rect x="1312.71" y="1278.89" width="31.41" height="27.16" fill="#F3FAD4"/>
<rect x="1347.22" y="1278.89" width="31.41" height="27.16" fill="#F0F9DC"/>
<rect x="1381.72" y="1278.89" width="31.41" height="27.16" fill="#D73027"/>
<rect x="1416.23" y="1278.89" width="31.41" height="27.16" fill="#FEE89C"/>
<rect x="1450.73" y="1278.89" width="31.41" height="27.16" fill="#FFF7B3"/>
<rect x="1485.24" y="1278.89" width="31.41" height="27.16" fill="#F7FCCD"/>
<rect x="1519.74" y="1278.89" width="31.41" height="27.16" fill="#FFFFBF"/>
<rect x="1554.25" y="1278.89" width="31.41" height="27.16" fill="#F7FCCD"/>
<rect x="208.55" y="1309.15" width="31.41" height="27.16" fill="#79A8CF"/>
<rect x="243.06" y="1309.15" width="31.41" height="27.16" fill="#79A8CF"/>
<rect x="277.56" y="1309.15" width="31.41" height="27.16" fill="#7EACD1"/>
<rect x="312.06" y="1309.15" width="31.41" height="27.16" fill="#7EACD1"/>
<rect x="346.57" y="1309.15" width="31.41" height="27.16" fill="#5888BE"/>
<rect x="381.07" y="1309.15" width="31.41" height="27.16" fill="#709FCA"/>
<rect x="415.58" y="1309.15" width="31.41" height="27.16" fill="#6B9AC8"/>
<rect x="450.09" y="1309.15" width="31.41" height="27.16" fill="#709FCA"/>
<rect x="484.59" y="1309.15" width="31.41" height="27.16" fill="#A0C9E0"/>
<rect x="519.10" y="1309.15" width="31.41" height="27.16" fill="#A0C9E0"/>
<rect x="553.60" y="1309.15" width="31.41" height="27.16" fill="#7EACD1"/>
<rect x="588.11" y="1309.15" width="31.41" height="27.16" fill="#709FCA"/>
<rect x="622.61" y="1309.15" width="31.41" height="27.16" fill="#6B9AC8"/>
<rect x="657.12" y="1309.15" width="31.41" height="27.16" fill="#6B9AC8"/>
<rect x="691.62" y="1309.15" width="31.41" height="27.16" fill="#E2F4F4"/>
<rect x="726.12" y="1309.15" width="31.41" height="27.16" fill="#A5CCE2"/>
<rect x="760.63" y="1309.15" width="31.41" height="27.16" fill="#E8F6EA"/>
<rect x="795.13" y="1309.15" width="31.41" height="27.16" fill="#F0F9DC"/>
<rect x="829.64" y="1309.15" width="31.41" height="27.16" fill="#F0F9DC"/>
<rect x="864.14" y="1309.15" width="31.41" height="27.16" fill="#F9FDCA"/>
<rect x="898.65" y="1309.15" width="31.41" height="27.16" fill="#FFFFBF"/>
<rect x="933.15" y="1309.15" width="31.41" height="27.16" fill="#FFFBB9"/>
<rect x="967.66" y="1309.15" width="31.41" height="27.16" fill="#F3FAD4"/>
<rect x="1002.16" y="1309.15" width="31.41" height="27.16" fill="#FFFBB9"/>
<rect x="1036.67" y="1309.15" width="31.41" height="27.16" fill="#FFFFBF"/>
<rect x="1071.17" y="1309.15" width="31.41" height="27.16" fill="#F3FAD4"/>
<rect x="1105.68" y="1309.15" width="31.41" height="27.16" fill="#FBFEC6"/>
<rect x="1140.19" y="1309.15" width="31.41" height="27.16" fill="#E0F3F8"/>
<rect x="1174.69" y="1309.15" width="31.41" height="27.16" fill="#F3FAD4"/>
<rect x="1209.19" y="1309.15" width="31.41" height="27.16" fill="#F0F9DC"/>
<rect x="1243.70" y="1309.15" width="31.41" height="27.16" fill="#C2E0ED"/>
<rect x="1278.20" y="1309.15" width="31.41" height="27.16" fill="#E0F3F8"/>
<rect x="1312.71" y="1309.15" width="31.41" height="27.16" fill="#E8F6EA"/>
<rect x="1347.22" y="1309.15" width="31.41" height="27.16" fill="#FFFBB9"/>
<rect x="1381.72" y="1309.15" width="31.41" height="27.16" fill="#FEE89C"/>
<rect x="1416.23" y="1309.15" width="31.41" height="27.16" fill="#D73027"/>
<rect x="1450.73" y="1309.15" width="31.41" height="27.16" fill="#FEE496"/>
<rect x="1485.24" y="1309.15" width="31.41" height="27.16" fill="#E8F6EA"/>
<rect x="1519.74" y="1309.15" width="31.41" height="27.16" fill="#FFFFBF"/>
<rect x="1554.25" y="1309.15" width="31.41" height="27.16" fill="#F3FAD4"/>
<rect x="208.55" y="1339.41" width="31.41" height="27.16" fill="#79A8CF"/>
<rect x="243.06" y="1339.41" width="31.41" height="27.16" fill="#7EACD1"/>
<rect x="277.56" y="1339.41" width="31.41" height="27.16" fill="#91BFDB"/>
<rect x="312.06" y="1339.41" width="31.41" height="27.16" fill="#91BFDB"/>
<rect x="346.57" y="1339.41" width="31.41" height="27.16" fill="#4575B4"/>
<rect x="381.07" y="1339.41" width="31.41" height="27.16" fill="#6291C3"/>
<rect x="415.58" y="1339.41" width="31.41" height="27.16" fill="#5D8CC0"/>
<rect x="450.09" y="1339.41" width="31.41" height="27.16" fill="#6291C3"/>
<rect x="484.59" y="1339.41" width="31.41" height="27.16" fill="#A0C9E0"/>
<rect x="519.10" y="1339.41" width="31.41" height="27.16" fill="#A5CCE2"/>
<rect x="553.60" y="1339.41" width="31.41" height="27.16" fill="#7EACD1"/>
<rect x="588.11" y="1339.41" width="31.41" height="27.16" fill="#6B9AC8"/>
<rect x="622.61" y="1339.41" width="31.41" height="27.16" fill="#5D8CC0"/>
<rect x="657.12" y="1339.41" width="31.41" height="27.16" fill="#7EACD1"/>
<rect x="691.62" y="1339.41" width="31.41" height="27.16" fill="#F1FAD8"/>
<rect x="726.12" y="1339.41" width="31.41" height="27.16" fill="#E0F3F8"/>
<rect x="760.63" y="1339.41" width="31.41" height="27.16" fill="#F7FCCD"/>
<rect x="795.13" y="1339.41" width="31.41" height="27.16" fill="#F7FCCD"/>
<rect x="829.64" y="1339.41" width="31.41" height="27.16" fill="#F5FBD1"/>
<rect x="864.14" y="1339.41" width="31.41" height="27.16" fill="#FFFFBF"/>
<rect x="898.65" y="1339.41" width="31.41" height="27.16" fill="#FFFBB9"/>
<rect x="933.15" y="1339.41" width="31.41" height="27.16" fill="#FEF0A8"/>
<rect x="967.66" y="1339.41" width="31.41" height="27.16" fill="#F3FAD4"/>
<rect x="1002.16" y="1339.41" width="31.41" height="27.16" fill="#F7FCCD"/>
<rect x="1036.67" y="1339.41" width="31.41" height="27.16" fill="#F3FAD4"/>
<rect x="1071.17" y="1339.41" width="31.41" height="27.16" fill="#F0F9DC"/>
<rect x="1105.68" y="1339.41" width="31.41" height="27.16" fill="#E8F6EA"/>
<rect x="1140.19" y="1339.41" width="31.41" height="27.16" fill="#F0F9DC"/>
<rect x="1174.69" y="1339.41" width="31.41" height="27.16" fill="#F0F9DC"/>
<rect x="1209.19" y="1339.41" width="31.41" height="27.16" fill="#E0F3F8"/>
<rect x="1243.70" y="1339.41" width="31.41" height="27.16" fill="#AFD2E6"/>
<rect x="1278.20" y="1339.41" width="31.41" height="27.16" fill="#D6ECF4"/>
<rect x="1312.71" y="1339.41" width="31.41" height="27.16" fill="#E0F3F8"/>
<rect x="1347.22" y="1339.41" width="31.41" height="27.16" fill="#F7FCCD"/>
<rect x="1381.72" y="1339.41" width="31.41" height="27.16" fill="#FFF7B3"/>
<rect x="1416.23" y="1339.41" width="31.41" height="27.16" fill="#FEE496"/>
<rect x="1450.73" y="1339.41" width="31.41" height="27.16" fill="#D73027"/>
<rect x="1485.24" y="1339.41" width="31.41" height="27.16" fill="#E0F3F8"/>
<rect x="1519.74" y="1339.41" width="31.41" height="27.16" fill="#F7FCCD"/>
<rect x="1554.25" y="1339.41" width="31.41" height="27.16" fill="#F3FAD4"/>
<rect x="208.55" y="1369.67" width="31.41" height="27.16" fill="#6B9AC8"/>
<rect x="243.06" y="1369.67" width="31.41" height="27.16" fill="#6B9AC8"/>
<rect x="277.56" y="1369.67" width="31.41" height="27.16" fill="#7EACD1"/>
<rect x="312.06" y="1369.67" width="31.41" height="27.16" fill="#6B9AC8"/>
<rect x="346.57" y="1369.67" width="31.41" height="27.16" fill="#A5CCE2"/>
<rect x="381.07" y="1369.67" width="31.41" height="27.16" fill="#A5CCE2"/>
<rect x="415.58" y="1369.67" width="31.41" height="27.16" fill="#91BFDB"/>
<rect x="450.09" y="1369.67" width="31.41" height="27.16" fill="#7EACD1"/>
<rect x="484.59" y="1369.67" width="31.41" height="27.16" fill="#E2F4F4"/>
<rect x="519.10" y="1369.67" width="31.41" height="27.16" fill="#6B9AC8"/>
<rect x="553.60" y="1369.67" width="31.41" height="27.16" fill="#A0C9E0"/>
<rect x="588.11" y="1369.67" width="31.41" height="27.16" fill="#B4D6E8"/>
<rect x="622.61" y="1369.67" width="31.41" height="27.16" fill="#6B9AC8"/>
<rect x="657.12" y="1369.67" width="31.41" height="27.16" fill="#7EACD1"/>
<rect x="691.62" y="1369.67" width="31.41" height="27.16" fill="#B4D6E8"/>
<rect x="726.12" y="1369.67" width="31.41" height="27.16" fill="#91BFDB"/>
<rect x="760.63" y="1369.67" width="31.41" height="27.16" fill="#B4D6E8"/>
<rect x="795.13" y="1369.67" width="31.41" height="27.16" fill="#A0C9E0"/>
<rect x="829.64" y="1369.67" width="31.41" height="27.16" fill="#CCE6F1"/>
<rect x="864.14" y="1369.67" width="31.41" height="27.16" fill="#E8F6EA"/>
<rect x="898.65" y="1369.67" width="31.41" height="27.16" fill="#CCE6F1"/>
<rect x="933.15" y="1369.67" width="31.41" height="27.16" fill="#C2E0ED"/>
<rect x="967.66" y="1369.67" width="31.41" height="27.16" fill="#ECF8E3"/>
<rect x="1002.16" y="1369.67" width="31.41" height="27.16" fill="#E8F6EA"/>
<rect x="1036.67" y="1369.67" width="31.41" height="27.16" fill="#ECF8E3"/>
<rect x="1071.17" y="1369.67" width="31.41" height="27.16" fill="#D6ECF4"/>
<rect x="1105.68" y="1369.67" width="31.41" height="27.16" fill="#E4F4F1"/>
<rect x="1140.19" y="1369.67" width="31.41" height="27.16" fill="#CCE6F1"/>
<rect x="1174.69" y="1369.67" width="31.41" height="27.16" fill="#CCE6F1"/>
<rect x="1209.19" y="1369.67" width="31.41" height="27.16" fill="#D6ECF4"/>
<rect x="1243.70" y="1369.67" width="31.41" height="27.16" fill="#F0F9DC"/>
<rect x="1278.20" y="1369.67" width="31.41" height="27.16" fill="#E8F6EA"/>
<rect x="1312.71" y="1369.67" width="31.41" height="27.16" fill="#F7FCCD"/>
<rect x="1347.22" y="1369.67" width="31.41" height="27.16" fill="#AFD2E6"/>
<rect x="1381.72" y="1369.67" width="31.41" height="27.16" fill="#F7FCCD"/>
<rect x="1416.23" y="1369.67" width="31.41" height="27.16" fill="#E8F6EA"/>
<rect x="1450.73" y="1369.67" width="31.41" height="27.16" fill="#E0F3F8"/>
<rect x="1485.24" y="1369.67" width="31.41" height="27.16" fill="#D73027"/>
<rect x="1519.74" y="1369.67" width="31.41" height="27.16" fill="#E4F4F1"/>
<rect x="1554.25" y="1369.67" width="31.41" height="27.16" fill="#FEE496"/>
<rect x="208.55" y="1399.93" width="31.41" height="27.16" fill="#7EACD1"/>
<rect x="243.06" y="1399.93" width="31.41" height="27.16" fill="#91BFDB"/>
<rect x="277.56" y="1399.93" width="31.41" height="27.16" fill="#7EACD1"/>
<rect x="312.06" y="1399.93" width="31.41" height="27.16" fill="#91BFDB"/>
<rect x="346.57" y="1399.93" width="31.41" height="27.16" fill="#5888BE"/>
<rect x="381.07" y="1399.93" width="31.41" height="27.16" fill="#5888BE"/>
<rect x="415.58" y="1399.93" width="31.41" height="27.16" fill="#79A8CF"/>
<rect x="450.09" y="1399.93" width="31.41" height="27.16" fill="#7EACD1"/>
<rect x="484.59" y="1399.93" width="31.41" height="27.16" fill="#8CBAD9"/>
<rect x="519.10" y="1399.93" width="31.41" height="27.16" fill="#A0C9E0"/>
<rect x="553.60" y="1399.93" width="31.41" height="27.16" fill="#91BFDB"/>
<rect x="588.11" y="1399.93" width="31.41" height="27.16" fill="#7EACD1"/>
<rect x="622.61" y="1399.93" width="31.41" height="27.16" fill="#6B9AC8"/>
<rect x="657.12" y="1399.93" width="31.41" height="27.16" fill="#6B9AC8"/>
<rect x="691.62" y="1399.93" width="31.41" height="27.16" fill="#96C2DD"/>
<rect x="726.12" y="1399.93" width="31.41" height="27.16" fill="#E0F3F8"/>
<rect x="760.63" y="1399.93" width="31.41" height="27.16" fill="#E0F3F8"/>
<rect x="795.13" y="1399.93" width="31.41" height="27.16" fill="#E0F3F8"/>
<rect x="829.64" y="1399.93" width="31.41" height="27.16" fill="#E8F6EA"/>
<rect x="864.14" y="1399.93" width="31.41" height="27.16" fill="#F0F9DC"/>
<rect x="898.65" y="1399.93" width="31.41" height="27.16" fill="#F3FAD4"/>
<rect x="933.15" y="1399.93" width="31.41" height="27.16" fill="#FFFFBF"/>
<rect x="967.66" y="1399.93" width="31.41" height="27.16" fill="#C2E0ED"/>
<rect x="1002.16" y="1399.93" width="31.41" height="27.16" fill="#CCE6F1"/>
<rect x="1036.67" y="1399.93" width="31.41" height="27.16" fill="#E0F3F8"/>
<rect x="1071.17" y="1399.93" width="31.41" height="27.16" fill="#B8D9EA"/>
<rect x="1105.68" y="1399.93" width="31.41" height="27.16" fill="#B8D9EA"/>
<rect x="1140.19" y="1399.93" width="31.41" height="27.16" fill="#9BC6DF"/>
<rect x="1174.69" y="1399.93" width="31.41" height="27.16" fill="#A5CCE2"/>
<rect x="1209.19" y="1399.93" width="31.41" height="27.16" fill="#CCE6F1"/>
<rect x="1243.70" y="1399.93" width="31.41" height="27.16" fill="#A5CCE2"/>
<rect x="1278.20" y="1399.93" width="31.41" height="27.16" fill="#CCE6F1"/>
<rect x="1312.71" y="1399.93" width="31.41" height="27.16" fill="#CCE6F1"/>
<rect x="1347.22" y="1399.93" width="31.41" height="27.16" fill="#ECF8E3"/>
<rect x="1381.72" y="1399.93" width="31.41" height="27.16" fill="#FFFFBF"/>
<rect x="1416.23" y="1399.93" width="31.41" height="27.16" fill="#FFFFBF"/>
<rect x="1450.73" y="1399.93" width="31.41" height="27.16" fill="#F7FCCD"/>
<rect x="1485.24" y="1399.93" width="31.41" height="27.16" fill="#E4F4F1"/>
<rect x="1519.74" y="1399.93" width="31.41" height="27.16" fill="#D73027"/>
<rect x="1554.25" y="1399.93" width="31.41" height="27.16" fill="#FEE090"/>
<rect x="208.55" y="1430.19" width="31.41" height="27.16" fill="#6B9AC8"/>
<rect x="243.06" y="1430.19" width="31.41" height="27.16" fill="#7EACD1"/>
<rect x="277.56" y="1430.19" width="31.41" height="27.16" fill="#5D8CC0"/>
<rect x="312.06" y="1430.19" width="31.41" height="27.16" fill="#7EACD1"/>
<rect x="346.57" y="1430.19" width="31.41" height="27.16" fill="#6B9AC8"/>
<rect x="381.07" y="1430.19" width="31.41" height="27.16" fill="#709FCA"/>
<rect x="415.58" y="1430.19" width="31.41" height="27.16" fill="#7EACD1"/>
<rect x="450.09" y="1430.19" width="31.41" height="27.16" fill="#91BFDB"/>
<rect x="484.59" y="1430.19" width="31.41" height="27.16" fill="#8CBAD9"/>
<rect x="519.10" y="1430.19" width="31.41" height="27.16" fill="#91BFDB"/>
<rect x="553.60" y="1430.19" width="31.41" height="27.16" fill="#A5CCE2"/>
<rect x="588.11" y="1430.19" width="31.41" height="27.16" fill="#96C2DD"/>
<rect x="622.61" y="1430.19" width="31.41" height="27.16" fill="#6B9AC8"/>
<rect x="657.12" y="1430.19" width="31.41" height="27.16" fill="#79A8CF"/>
<rect x="691.62" y="1430.19" width="31.41" height="27.16" fill="#CCE6F1"/>
<rect x="726.12" y="1430.19" width="31.41" height="27.16" fill="#D1E9F3"/>
<rect x="760.63" y="1430.19" width="31.41" height="27.16" fill="#EAF7E6"/>
<rect x="795.13" y="1430.19" width="31.41" height="27.16" fill="#E0F3F8"/>
<rect x="829.64" y="1430.19" width="31.41" height="27.16" fill="#E8F6EA"/>
<rect x="864.14" y="1430.19" width="31.41" height="27.16" fill="#F9FDCA"/>
<rect x="898.65" y="1430.19" width="31.41" height="27.16" fill="#F3FAD4"/>
<rect x="933.15" y="1430.19" width="31.41" height="27.16" fill="#F3FAD4"/>
<rect x="967.66" y="1430.19" width="31.41" height="27.16" fill="#A5CCE2"/>
<rect x="1002.16" y="1430.19" width="31.41" height="27.16" fill="#A5CCE2"/>
<rect x="1036.67" y="1430.19" width="31.41" height="27.16" fill="#C2E0ED"/>
<rect x="1071.17" y="1430.19" width="31.41" height="27.16" fill="#91BFDB"/>
<rect x="1105.68" y="1430.19" width="31.41" height="27.16" fill="#9BC6DF"/>
<rect x="1140.19" y="1430.19" width="31.41" height="27.16" fill="#7EACD1"/>
<rect x="1174.69" y="1430.19" width="31.41" height="27.16" fill="#7EACD1"/>
<rect x="1209.19" y="1430.19" width="31.41" height="27.16" fill="#AFD2E6"/>
<rect x="1243.70" y="1430.19" width="31.41" height="27.16" fill="#A5CCE2"/>
<rect x="1278.20" y="1430.19" width="31.41" height="27.16" fill="#A5CCE2"/>
<rect x="1312.71" y="1430.19" width="31.41" height="27.16" fill="#B8D9EA"/>
<rect x="1347.22" y="1430.19" width="31.41" height="27.16" fill="#E8F6EA"/>
<rect x="1381.72" y="1430.19" width="31.41" height="27.16" fill="#F7FCCD"/>
<rect x="1416.23" y="1430.19" width="31.41" height="27.16" fill="#F3FAD4"/>
<rect x="1450.73" y="1430.19" width="31.41" height="27.16" fill="#F3FAD4"/>
<rect x="1485.24" y="1430.19" width="31.41" height="27.16" fill="#FEE496"/>
<rect x="1519.74" y="1430.19" width="31.41" height="27.16" fill="#FEE090"/>
<rect x="1554.25" y="1430.19" width="31.41" height="27.16" fill="#D73027"/>
</g>
<rect x="205.45" y="209.95" width="1383.30" height="31.50" fill="#999999"/>
<rect x="208.55" y="213.05" width="31.41" height="25.30" fill="#FF9289"/>
<rect x="243.06" y="213.05" width="31.41" height="25.30" fill="#99CC00"/>
<rect x="277.56" y="213.05" width="31.41" height="25.30" fill="#FF9289"/>
<rect x="312.06" y="213.05" width="31.41" height="25.30" fill="#99CC00"/>
<rect x="346.57" y="213.05" width="31.41" height="25.30" fill="#FF9289"/>
<rect x="381.07" y="213.05" width="31.41" height="25.30" fill="#99CC00"/>
<rect x="415.58" y="213.05" width="31.41" height="25.30" fill="#99CC00"/>
<rect x="450.09" y="213.05" width="31.41" height="25.30" fill="#99CC00"/>
<rect x="484.59" y="213.05" width="31.41" height="25.30" fill="#FF9289"/>
<rect x="519.10" y="213.05" width="31.41" height="25.30" fill="#FF9289"/>
<rect x="553.60" y="213.05" width="31.41" height="25.30" fill="#99CC00"/>
<rect x="588.11" y="213.05" width="31.41" height="25.30" fill="#99CC00"/>
<rect x="622.61" y="213.05" width="31.41" height="25.30" fill="#FF9289"/>
<rect x="657.12" y="213.05" width="31.41" height="25.30" fill="#FF9289"/>
<rect x="691.62" y="213.05" width="31.41" height="25.30" fill="#99CC00"/>
<rect x="726.12" y="213.05" width="31.41" height="25.30" fill="#99CC00"/>
<rect x="760.63" y="213.05" width="31.41" height="25.30" fill="#FF9289"/>
<rect x="795.13" y="213.05" width="31.41" height="25.30" fill="#99CC00"/>
<rect x="829.64" y="213.05" width="31.41" height="25.30" fill="#99CC00"/>
<rect x="864.14" y="213.05" width="31.41" height="25.30" fill="#99CC00"/>
<rect x="898.65" y="213.05" width="31.41" height="25.30" fill="#99CC00"/>
<rect x="933.15" y="213.05" width="31.41" height="25.30" fill="#99CC00"/>
<rect x="967.66" y="213.05" width="31.41" height="25.30" fill="#FF9289"/>
<rect x="1002.16" y="213.05" width="31.41" height="25.30" fill="#FF9289"/>
<rect x="1036.67" y="213.05" width="31.41" height="25.30" fill="#FF9289"/>
<rect x="1071.17" y="213.05" width="31.41" height="25.30" fill="#FF9289"/>
<rect x="1105.68" y="213.05" width="31.41" height="25.30" fill="#FF9289"/>
<rect x="1140.19" y="213.05" width="31.41" height="25.30" fill="#FF9289"/>
<rect x="1174.69" y="213.05" width="31.41" height="25.30" fill="#FF9289"/>
<rect x="1209.19" y="213.05" width="31.41" height="25.30" fill="#99CC00"/>
<rect x="1243.70" y="213.05" width="31.41" height="25.30" fill="#FF9289"/>
<rect x="1278.20" y="213.05" width="31.41" height="25.30" fill="#FF9289"/>
<rect x="1312.71" y="213.05" width="31.41" height="25.30" fill="#FF9289"/>
<rect x="1347.22" y="213.05" width="31.41" height="25.30" fill="#99CC00"/>
<rect x="1381.72" y="213.05" width="31.41" height="25.30" fill="#99CC00"/>
<rect x="1416.23" y="213.05" width="31.41" height="25.30" fill="#99CC00"/>
<rect x="1450.73" y="213.05" width="31.41" height="25.30" fill="#99CC00"/>
<rect x="1485.24" y="213.05" width="31.41" height="25.30" fill="#FF9289"/>
<rect x="1519.74" y="213.05" width="31.41" height="25.30" fill="#FF9289"/>
<rect x="1554.25" y="213.05" width="31.41" height="25.30" fill="#99CC00"/>
<rect x="168.05" y="246.95" width="31.80" height="1213.50" fill="#999999"/>
<rect x="171.15" y="250.05" width="25.60" height="27.16" fill="#FF9289"/>
<rect x="171.15" y="280.31" width="25.60" height="27.16" fill="#99CC00"/>
<rect x="171.15" y="310.57" width="25.60" height="27.16" fill="#FF9289"/>
<rect x="171.15" y="340.83" width="25.60" height="27.16" fill="#99CC00"/>
<rect x="171.15" y="371.09" width="25.60" height="27.16" fill="#FF9289"/>
<rect x="171.15" y="401.35" width="25.60" height="27.16" fill="#99CC00"/>
<rect x="171.15" y="431.61" width="25.60" height="27.16" fill="#99CC00"/>
<rect x="171.15" y="461.87" width="25.60" height="27.16" fill="#99CC00"/>
<rect x="171.15" y="492.13" width="25.60" height="27.16" fill="#FF9289"/>
<rect x="171.15" y="522.39" width="25.60" height="27.16" fill="#FF9289"/>
<rect x="171.15" y="552.65" width="25.60" height="27.16" fill="#99CC00"/>
<rect x="171.15" y="582.91" width="25.60" height="27.16" fill="#99CC00"/>
<rect x="171.15" y="613.17" width="25.60" height="27.16" fill="#FF9289"/>
<rect x="171.15" y="643.43" width="25.60" height="27.16" fill="#FF9289"/>
<rect x="171.15" y="673.69" width="25.60" height="27.16" fill="#99CC00"/>
<rect x="171.15" y="703.95" width="25.60" height="27.16" fill="#99CC00"/>
<rect x="171.15" y="734.21" width="25.60" height="27.16" fill="#FF9289"/>
<rect x="171.15" y="764.47" width="25.60" height="27.16" fill="#99CC00"/>
<rect x="171.15" y="794.73" width="25.60" height="27.16" fill="#99CC00"/>
<rect x="171.15" y="824.99" width="25.60" height="27.16" fill="#99CC00"/>
<rect x="171.15" y="855.25" width="25.60" height="27.16" fill="#99CC00"/>
<rect x="171.15" y="885.51" width="25.60" height="27.16" fill="#99CC00"/>
<rect x="171.15" y="915.77" width="25.60" height="27.16" fill="#FF9289"/>
<rect x="171.15" y="946.03" width="25.60" height="27.16" fill="#FF9289"/>
<rect x="171.15" y="976.29" width="25.60" height="27.16" fill="#FF9289"/>
<rect x="171.15" y="1006.55" width="25.60" height="27.16" fill="#FF9289"/>
<rect x="171.15" y="1036.81" width="25.60" height="27.16" fill="#FF9289"/>
<rect x="171.15" y="1067.07" width="25.60" height="27.16" fill="#FF9289"/>
<rect x="171.15" y="1097.33" width="25.60" height="27.16" fill="#FF9289"/>
<rect x="171.15" y="1127.59" width="25.60" height="27.16" fill="#99CC00"/>
<rect x="171.15" y="1157.85" width="25.60" height="27.16" fill="#FF9289"/>
<rect x="171.15" y="1188.11" width="25.60" height="27.16" fill="#FF9289"/>
<rect x="171.15" y="1218.37" width="25.60" height="27.16" fill="#FF9289"/>
<rect x="171.15" y="1248.63" width="25.60" height="27.16" fill="#99CC00"/>
<rect x="171.15" y="1278.89" width="25.60" height="27.16" fill="#99CC00"/>
<rect x="171.15" y="1309.15" width="25.60" height="27.16" fill="#99CC00"/>
<rect x="171.15" y="1339.41" width="25.60" height="27.16" fill="#99CC00"/>
<rect x="171.15" y="1369.67" width="25.60" height="27.16" fill="#FF9289"/>
<rect x="171.15" y="1399.93" width="25.60" height="27.16" fill="#FF9289"/>
<rect x="171.15" y="1430.19" width="25.60" height="27.16" fill="#99CC00"/>
<path d="M224.3 208.6L224.3 195.8L258.8 195.8L258.8 208.6M293.3 208.6L293.3 179.7L327.8 179.7L327.8 208.6M241.5 195.8L241.5 139.7L310.5 139.7L310.5 179.7M362.3 208.6L362.3 176.3L396.8 176.3L396.8 208.6M431.3 208.6L431.3 152.3L465.8 152.3L465.8 208.6M379.5 176.3L379.5 133.2L448.5 133.2L448.5 152.3M569.3 208.6L569.3 141.7L603.8 141.7L603.8 208.6M638.3 208.6L638.3 134.2L672.8 134.2L672.8 208.6M586.6 141.7L586.6 130.0L655.6 130.0L655.6 134.2M534.8 208.6L534.8 124.2L621.1 124.2L621.1 130.0M500.3 208.6L500.3 118.8L577.9 118.8L577.9 124.2M414.0 133.2L414.0 101.0L539.1 101.0L539.1 118.8M276.0 139.7L276.0 93.0L476.6 93.0L476.6 101.0M776.3 208.6L776.3 176.0L810.8 176.0L810.8 208.6M741.8 208.6L741.8 171.2L793.6 171.2L793.6 176.0M914.4 208.6L914.4 176.0L948.9 176.0L948.9 208.6M879.8 208.6L879.8 169.8L931.6 169.8L931.6 176.0M845.3 208.6L845.3 156.1L905.7 156.1L905.7 169.8M767.7 171.2L767.7 147.9L875.5 147.9L875.5 156.1M707.3 208.6L707.3 141.7L821.6 141.7L821.6 147.9M1017.9 208.6L1017.9 176.0L1052.4 176.0L1052.4 208.6M1086.9 208.6L1086.9 172.2L1121.4 172.2L1121.4 208.6M1035.1 176.0L1035.1 168.4L1104.1 168.4L1104.1 172.2M983.4 208.6L983.4 164.0L1069.6 164.0L1069.6 168.4M1155.9 208.6L1155.9 161.6L1190.4 161.6L1190.4 208.6M1026.5 164.0L1026.5 156.4L1173.1 156.4L1173.1 161.6M1293.9 208.6L1293.9 161.6L1328.4 161.6L1328.4 208.6M1259.4 208.6L1259.4 154.7L1311.2 154.7L1311.2 161.6M1224.9 208.6L1224.9 147.9L1285.3 147.9L1285.3 154.7M1099.8 156.4L1099.8 140.0L1255.1 140.0L1255.1 147.9M1431.9 208.6L1431.9 169.8L1466.4 169.8L1466.4 208.6M1397.4 208.6L1397.4 162.6L1449.2 162.6L1449.2 169.8M1362.9 208.6L1362.9 148.9L1423.3 148.9L1423.3 162.6M1535.4 208.6L1535.4 169.5L1569.9 169.5L1569.9 208.6M1500.9 208.6L1500.9 141.4L1552.7 141.4L1552.7 169.5M1393.1 148.9L1393.1 128.4L1526.8 128.4L1526.8 141.4M1177.5 140.0L1177.5 105.4L1460.0 105.4L1460.0 128.4M764.5 141.7L764.5 85.2L1318.7 85.2L1318.7 105.4M376.3 93.0L376.3 56.4L1041.6 56.4L1041.6 85.2" stroke="#000" stroke-width="2.8" fill="none" stroke-linejoin="miter"/>
<path d="M166.7 263.6L154.0 263.6L154.0 293.9L166.7 293.9M166.7 324.1L138.0 324.1L138.0 354.4L166.7 354.4M154.0 278.8L98.2 278.8L98.2 339.3L138.0 339.3M166.7 384.7L134.6 384.7L134.6 414.9L166.7 414.9M166.7 445.2L110.7 445.2L110.7 475.5L166.7 475.5M134.6 399.8L91.7 399.8L91.7 460.3L110.7 460.3M166.7 566.2L100.2 566.2L100.2 596.5L166.7 596.5M166.7 626.8L92.7 626.8L92.7 657.0L166.7 657.0M100.2 581.4L88.6 581.4L88.6 641.9L92.7 641.9M166.7 536.0L82.8 536.0L82.8 611.6L88.6 611.6M166.7 505.7L77.4 505.7L77.4 573.8L82.8 573.8M91.7 430.1L59.7 430.1L59.7 539.8L77.4 539.8M98.2 309.0L51.8 309.0L51.8 484.9L59.7 484.9M166.7 747.8L134.3 747.8L134.3 778.1L166.7 778.1M166.7 717.5L129.5 717.5L129.5 762.9L134.3 762.9M166.7 868.8L134.3 868.8L134.3 899.1L166.7 899.1M166.7 838.6L128.1 838.6L128.1 884.0L134.3 884.0M166.7 808.3L114.5 808.3L114.5 861.3L128.1 861.3M129.5 740.2L106.4 740.2L106.4 834.8L114.5 834.8M166.7 687.3L100.2 687.3L100.2 787.5L106.4 787.5M166.7 959.6L134.3 959.6L134.3 989.9L166.7 989.9M166.7 1020.1L130.5 1020.1L130.5 1050.4L166.7 1050.4M134.3 974.7L126.7 974.7L126.7 1035.3L130.5 1035.3M166.7 929.4L122.4 929.4L122.4 1005.0L126.7 1005.0M166.7 1080.7L120.0 1080.7L120.0 1110.9L166.7 1110.9M122.4 967.2L114.8 967.2L114.8 1095.8L120.0 1095.8M166.7 1201.7L120.0 1201.7L120.0 1232.0L166.7 1232.0M166.7 1171.4L113.1 1171.4L113.1 1216.8L120.0 1216.8M166.7 1141.2L106.4 1141.2L106.4 1194.1L113.1 1194.1M114.8 1031.5L98.5 1031.5L98.5 1167.6L106.4 1167.6M166.7 1322.7L128.1 1322.7L128.1 1353.0L166.7 1353.0M166.7 1292.5L121.0 1292.5L121.0 1337.9L128.1 1337.9M166.7 1262.2L107.4 1262.2L107.4 1315.2L121.0 1315.2M166.7 1413.5L127.8 1413.5L127.8 1443.8L166.7 1443.8M166.7 1383.2L99.9 1383.2L99.9 1428.6L127.8 1428.6M107.4 1288.7L87.0 1288.7L87.0 1405.9L99.9 1405.9M98.5 1099.6L64.1 1099.6L64.1 1347.3L87.0 1347.3M100.2 737.4L44.0 737.4L44.0 1223.4L64.1 1223.4M51.8 397.0L15.4 397.0L15.4 980.4L44.0 980.4" stroke="#000" stroke-width="2.8" fill="none" stroke-linejoin="miter"/>
<g font-family="'Liberation Sans',Arial,sans-serif" font-size="28.5" fill="#000" stroke="#000" stroke-width="0.5">
<text transform="translate(1596 236.0) scale(1 1.025)">Protocol</text>
<text transform="translate(1596 273.9) scale(1 1.025)">Factor_1sn</text>
<text transform="translate(1596 304.2) scale(1 1.025)">Factor_7sc</text>
<text transform="translate(1596 334.4) scale(1 1.025)">Factor_8sn</text>
<text transform="translate(1596 364.7) scale(1 1.025)">Factor_17sc</text>
<text transform="translate(1596 395.0) scale(1 1.025)">Factor_11sn</text>
<text transform="translate(1596 425.2) scale(1 1.025)">Factor_16sc</text>
<text transform="translate(1596 455.5) scale(1 1.025)">Factor_2sc</text>
<text transform="translate(1596 485.8) scale(1 1.025)">Factor_10sc</text>
<text transform="translate(1596 516.0) scale(1 1.025)">Factor_16sn</text>
<text transform="translate(1596 546.3) scale(1 1.025)">Factor_12sn</text>
<text transform="translate(1596 576.5) scale(1 1.025)">Factor_3sc</text>
<text transform="translate(1596 606.8) scale(1 1.025)">Factor_5sc</text>
<text transform="translate(1596 637.0) scale(1 1.025)">Factor_5sn</text>
<text transform="translate(1596 667.3) scale(1 1.025)">Factor_20sn</text>
<text transform="translate(1596 697.6) scale(1 1.025)">Factor_20sc</text>
<text transform="translate(1596 727.8) scale(1 1.025)">Factor_13sc</text>
<text transform="translate(1596 758.1) scale(1 1.025)">Factor_9sn</text>
<text transform="translate(1596 788.4) scale(1 1.025)">Factor_11sc</text>
<text transform="translate(1596 818.6) scale(1 1.025)">Factor_15sc</text>
<text transform="translate(1596 848.9) scale(1 1.025)">Factor_19sc</text>
<text transform="translate(1596 879.1) scale(1 1.025)">Factor_6sc</text>
<text transform="translate(1596 909.4) scale(1 1.025)">Factor_14sc</text>
<text transform="translate(1596 939.6) scale(1 1.025)">Factor_10sn</text>
<text transform="translate(1596 969.9) scale(1 1.025)">Factor_18sn</text>
<text transform="translate(1596 1000.2) scale(1 1.025)">Factor_19sn</text>
<text transform="translate(1596 1030.4) scale(1 1.025)">Factor_14sn</text>
<text transform="translate(1596 1060.7) scale(1 1.025)">Factor_15sn</text>
<text transform="translate(1596 1091.0) scale(1 1.025)">Factor_4sn</text>
<text transform="translate(1596 1121.2) scale(1 1.025)">Factor_7sn</text>
<text transform="translate(1596 1151.5) scale(1 1.025)">Factor_18sc</text>
<text transform="translate(1596 1181.7) scale(1 1.025)">Factor_13sn</text>
<text transform="translate(1596 1212.0) scale(1 1.025)">Factor_2sn</text>
<text transform="translate(1596 1242.2) scale(1 1.025)">Factor_3sn</text>
<text transform="translate(1596 1272.5) scale(1 1.025)">Factor_9sc</text>
<text transform="translate(1596 1302.8) scale(1 1.025)">Factor_4sc</text>
<text transform="translate(1596 1333.0) scale(1 1.025)">Factor_1sc</text>
<text transform="translate(1596 1363.3) scale(1 1.025)">Factor_12sc</text>
<text transform="translate(1596 1393.5) scale(1 1.025)">Factor_17sn</text>
<text transform="translate(1596 1423.8) scale(1 1.025)">Factor_6sn</text>
<text transform="translate(1596 1454.1) scale(1 1.025)">Factor_8sc</text>
<text transform="translate(214.1 1467.6) rotate(90) scale(1 1.025)">Factor_1sn</text>
<text transform="translate(248.6 1467.6) rotate(90) scale(1 1.025)">Factor_7sc</text>
<text transform="translate(283.1 1467.6) rotate(90) scale(1 1.025)">Factor_8sn</text>
<text transform="translate(317.6 1467.6) rotate(90) scale(1 1.025)">Factor_17sc</text>
<text transform="translate(352.1 1467.6) rotate(90) scale(1 1.025)">Factor_11sn</text>
<text transform="translate(386.6 1467.6) rotate(90) scale(1 1.025)">Factor_16sc</text>
<text transform="translate(421.1 1467.6) rotate(90) scale(1 1.025)">Factor_2sc</text>
<text transform="translate(455.6 1467.6) rotate(90) scale(1 1.025)">Factor_10sc</text>
<text transform="translate(490.1 1467.6) rotate(90) scale(1 1.025)">Factor_16sn</text>
<text transform="translate(524.6 1467.6) rotate(90) scale(1 1.025)">Factor_12sn</text>
<text transform="translate(559.1 1467.6) rotate(90) scale(1 1.025)">Factor_3sc</text>
<text transform="translate(593.6 1467.6) rotate(90) scale(1 1.025)">Factor_5sc</text>
<text transform="translate(628.1 1467.6) rotate(90) scale(1 1.025)">Factor_5sn</text>
<text transform="translate(662.6 1467.6) rotate(90) scale(1 1.025)">Factor_20sn</text>
<text transform="translate(697.1 1467.6) rotate(90) scale(1 1.025)">Factor_20sc</text>
<text transform="translate(731.6 1467.6) rotate(90) scale(1 1.025)">Factor_13sc</text>
<text transform="translate(766.1 1467.6) rotate(90) scale(1 1.025)">Factor_9sn</text>
<text transform="translate(800.6 1467.6) rotate(90) scale(1 1.025)">Factor_11sc</text>
<text transform="translate(835.1 1467.6) rotate(90) scale(1 1.025)">Factor_15sc</text>
<text transform="translate(869.6 1467.6) rotate(90) scale(1 1.025)">Factor_19sc</text>
<text transform="translate(904.2 1467.6) rotate(90) scale(1 1.025)">Factor_6sc</text>
<text transform="translate(938.7 1467.6) rotate(90) scale(1 1.025)">Factor_14sc</text>
<text transform="translate(973.2 1467.6) rotate(90) scale(1 1.025)">Factor_10sn</text>
<text transform="translate(1007.7 1467.6) rotate(90) scale(1 1.025)">Factor_18sn</text>
<text transform="translate(1042.2 1467.6) rotate(90) scale(1 1.025)">Factor_19sn</text>
<text transform="translate(1076.7 1467.6) rotate(90) scale(1 1.025)">Factor_14sn</text>
<text transform="translate(1111.2 1467.6) rotate(90) scale(1 1.025)">Factor_15sn</text>
<text transform="translate(1145.7 1467.6) rotate(90) scale(1 1.025)">Factor_4sn</text>
<text transform="translate(1180.2 1467.6) rotate(90) scale(1 1.025)">Factor_7sn</text>
<text transform="translate(1214.7 1467.6) rotate(90) scale(1 1.025)">Factor_18sc</text>
<text transform="translate(1249.2 1467.6) rotate(90) scale(1 1.025)">Factor_13sn</text>
<text transform="translate(1283.7 1467.6) rotate(90) scale(1 1.025)">Factor_2sn</text>
<text transform="translate(1318.2 1467.6) rotate(90) scale(1 1.025)">Factor_3sn</text>
<text transform="translate(1352.7 1467.6) rotate(90) scale(1 1.025)">Factor_9sc</text>
<text transform="translate(1387.2 1467.6) rotate(90) scale(1 1.025)">Factor_4sc</text>
<text transform="translate(1421.7 1467.6) rotate(90) scale(1 1.025)">Factor_1sc</text>
<text transform="translate(1456.2 1467.6) rotate(90) scale(1 1.025)">Factor_12sc</text>
<text transform="translate(1490.7 1467.6) rotate(90) scale(1 1.025)">Factor_17sn</text>
<text transform="translate(1525.2 1467.6) rotate(90) scale(1 1.025)">Factor_6sn</text>
<text transform="translate(1559.7 1467.6) rotate(90) scale(1 1.025)">Factor_8sc</text>
<text transform="translate(173.7 1467.6) rotate(90) scale(1 1.025)">Protocol</text>
</g>
<rect x="205.4" y="248.9" width="1829.0" height="60.5" fill="none" stroke="#000" stroke-width="2.6"/>
<rect x="205.4" y="309.4" width="1829.0" height="60.5" fill="none" stroke="#000" stroke-width="2.6"/>
<rect x="205.4" y="369.9" width="1829.0" height="60.5" fill="none" stroke="#000" stroke-width="2.6"/>
<rect x="205.4" y="702.8" width="1829.0" height="211.8" fill="none" stroke="#000" stroke-width="2.6"/>
<rect x="205.4" y="914.6" width="1829.0" height="211.8" fill="none" stroke="#000" stroke-width="2.6"/>
<rect x="205.4" y="1368.5" width="1829.0" height="90.8" fill="none" stroke="#000" stroke-width="2.6"/>
<text x="1856.8" y="284" font-family="'DejaVu Sans',Verdana,sans-serif" font-size="22.6" font-weight="bold" textLength="126.6" lengthAdjust="spacingAndGlyphs">Cell cycle</text>
<text x="1844.8" y="329.8" font-family="'DejaVu Sans',Verdana,sans-serif" font-size="22.6" font-weight="bold" textLength="148.0" lengthAdjust="spacingAndGlyphs">DNA repair</text>
<text x="1845.6" y="360.1" font-family="'DejaVu Sans',Verdana,sans-serif" font-size="22.6" font-weight="bold" textLength="126.8" lengthAdjust="spacingAndGlyphs">Cell cycle</text>
<text x="1798.1" y="390.5" font-family="'DejaVu Sans',Verdana,sans-serif" font-size="22.6" font-weight="bold" textLength="244.3" lengthAdjust="spacingAndGlyphs">EMT (ZEB2, ZEB1,</text>
<text x="1798.1" y="420.9" font-family="'DejaVu Sans',Verdana,sans-serif" font-size="22.6" font-weight="bold" textLength="154.8" lengthAdjust="spacingAndGlyphs">ITGA, VIM)</text>
<text x="1828.8" y="784.7" font-family="'DejaVu Sans',Verdana,sans-serif" font-size="22.6" stroke="#000" stroke-width="0.35" textLength="131.6" lengthAdjust="spacingAndGlyphs">Translation</text>
<text x="1825.7" y="814.5" font-family="'DejaVu Sans',Verdana,sans-serif" font-size="22.6" stroke="#000" stroke-width="0.35" textLength="140.2" lengthAdjust="spacingAndGlyphs">Metabolism</text>
<text x="1826.7" y="844.8" font-family="'DejaVu Sans',Verdana,sans-serif" font-size="22.6" stroke="#000" stroke-width="0.35" textLength="105.3" lengthAdjust="spacingAndGlyphs">OXPHOS</text>
<text x="1765.3" y="990.9" font-family="'DejaVu Sans',Verdana,sans-serif" font-size="22.6" stroke="#000" stroke-width="0.35" textLength="172.7" lengthAdjust="spacingAndGlyphs">Mammary TFs</text>
<text x="1765.3" y="1021.2" font-family="'DejaVu Sans',Verdana,sans-serif" font-size="22.6" stroke="#000" stroke-width="0.35" textLength="156.8" lengthAdjust="spacingAndGlyphs">ER signalling</text>
<text x="1765.3" y="1051" font-family="'DejaVu Sans',Verdana,sans-serif" font-size="22.6" stroke="#000" stroke-width="0.35" textLength="258.3" lengthAdjust="spacingAndGlyphs">Neural differentiation</text>
<text x="1809.9" y="1411" font-family="'DejaVu Sans',Verdana,sans-serif" font-size="22.6" stroke="#000" stroke-width="0.35" textLength="170.9" lengthAdjust="spacingAndGlyphs">Hypoxia, HSP,</text>
<text x="1809.9" y="1440.9" font-family="'DejaVu Sans',Verdana,sans-serif" font-size="22.6" stroke="#000" stroke-width="0.35" textLength="164.1" lengthAdjust="spacingAndGlyphs">Inflammation</text>
<text x="1675.6" y="1530.4" font-family="'Liberation Sans',Arial,sans-serif" font-size="28.7" stroke="#000" stroke-width="0.5">Protocol</text>
<rect x="1675" y="1539.2" width="43.9" height="85.4" fill="#999999"/>
<rect x="1677.8" y="1542.2" width="38.3" height="37.8" fill="#99CC00"/>
<rect x="1677.8" y="1583.6" width="38.3" height="38" fill="#FF9289"/>
<text x="1725.2" y="1571.6" font-family="'Liberation Sans',Arial,sans-serif" font-size="28.9" stroke="#000" stroke-width="0.5">scRNAseq</text>
<text x="1725.2" y="1612.7" font-family="'Liberation Sans',Arial,sans-serif" font-size="28.9" stroke="#000" stroke-width="0.5">snRNAseq</text>
<text x="1911.3" y="1537.2" font-family="'DejaVu Sans',Verdana,sans-serif" font-size="23" stroke="#000" stroke-width="0.35" textLength="252.5" lengthAdjust="spacingAndGlyphs">Pearson&#39;s correlation</text>
<defs><linearGradient id="lg" x1="0" x2="1" y1="0" y2="0">
<stop offset="0.0000" stop-color="#4575B4"/>
<stop offset="0.1667" stop-color="#91BFDB"/>
<stop offset="0.3333" stop-color="#E0F3F8"/>
<stop offset="0.5000" stop-color="#FFFFBF"/>
<stop offset="0.6667" stop-color="#FEE090"/>
<stop offset="0.8333" stop-color="#FC8D59"/>
<stop offset="1.0000" stop-color="#D73027"/>
</linearGradient></defs>
<rect x="1915.5" y="1547.7" width="238.1" height="33.5" fill="url(#lg)"/>
<g font-family="'Liberation Sans',Arial,sans-serif" font-size="24" text-anchor="middle" stroke="#000" stroke-width="0.4">
<text x="1949.3" y="1600.5">0</text>
<text x="1990.3" y="1600.5">0.2</text>
<text x="2030.9" y="1600.5">0.4</text>
<text x="2071.8" y="1600.5">0.6</text>
<text x="2112.5" y="1600.5">0.8</text>
<text x="2148.9" y="1600.5">1</text>
</g>
</svg>
</body></html>
